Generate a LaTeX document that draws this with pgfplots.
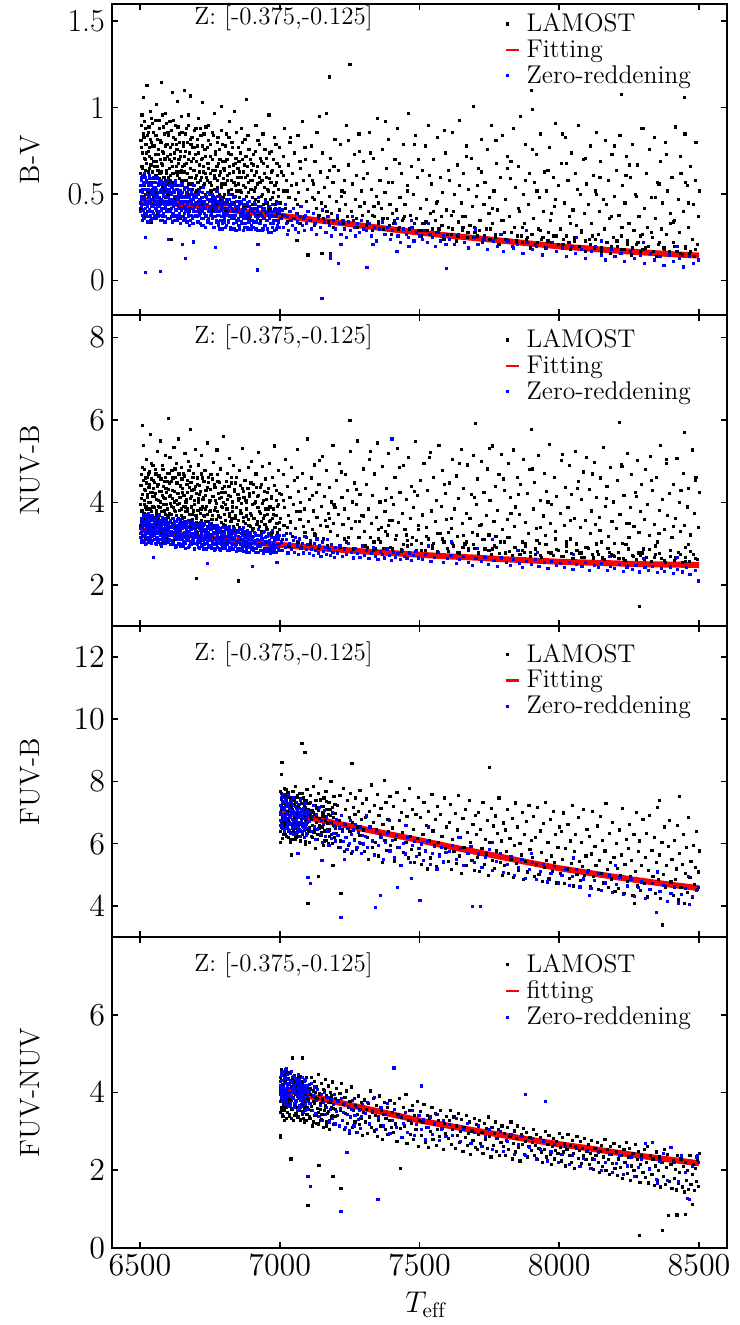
\RequirePackage{fix-cm}
\documentclass[border=0pt]{standalone}
\usepackage{fontspec}
\usepackage{pgfplots}
\pgfplotsset{compat=1.18}
\pgfplotsset{
  panel/.style={width=307.5pt, height=155.5pt, scale only axis,
    xmin=6400, xmax=8600, xtick={6500,7000,7500,8000,8500},
    tick align=inside, tick pos=both, major tick length=3pt,
    every tick/.style={black, line width=0.8pt},
    axis line style={line width=0.9pt},
    ticklabel style={font=\fontsize{16}{18}\selectfont},
    /pgf/number format/1000 sep={},
    ylabel style={font=\fontsize{14}{16}\selectfont, at={(axis description cs:-0.1335,0.5)}, anchor=center},
    legend cell align=left,
    legend style={draw=none, fill=none, font=\fontsize{12.8}{14}\selectfont, row sep=0.6pt, inner sep=0pt, nodes={inner sep=1pt}},
  },
  lam/.style={only marks, mark=square*, mark size=0.55pt, black, mark options={line width=0.1pt},
    legend image code/.code={\path[draw=none,fill=none] (0,-0.05pt) rectangle (0.23cm,0.05pt); \fill[black, overlay] (-2.55pt,-0.55pt) rectangle (-1.45pt,0.55pt);}},
  zer/.style={only marks, mark=square*, mark size=0.55pt, blue, mark options={line width=0.1pt},
    legend image code/.code={\path[draw=none,fill=none] (0,-0.05pt) rectangle (0.23cm,0.05pt); \fill[blue, overlay] (-2.55pt,-0.55pt) rectangle (-1.45pt,0.55pt);}},
  fitimg/.style={legend image code/.code={\path[draw=none,fill=none] (0,-0.05pt) rectangle (0.23cm,0.05pt); \draw[red, line width=1.3pt, overlay] (-3pt,0cm) -- (3.5pt,0cm);}},
  fit/.style={red, line width=3pt, no marks, forget plot},
}
\begin{document}
\begin{tikzpicture}
\useasboundingbox (-56pt,-38.5pt) rectangle (313.5pt,624pt);
% ---------------- Panel 1 : B-V
\begin{axis}[panel, at={(0,466.5pt)}, anchor=south west, ymin=-0.2, ymax=1.6, ytick={0,0.5,1,1.5},
  yticklabels={0,0.5,1,1.5}, xticklabels={,,,,}, ylabel={B-V},
  legend style={at={(rel axis cs:0.649,0.978)}, anchor=north west}]
\addplot[lam] coordinates {
(6501,0.42)(6503,0.58)(6504,0.77)(6506,0.96)(6507,0.49)(6509,0.65)(6510,1.06)(6512,0.37)(6513,0.83)(6515,0.55)(6516,0.61)(6518,0.70)(6519,0.88)(6521,0.45)(6522,0.74)(6524,1.13)(6525,0.52)(6527,0.40)(6528,0.86)(6530,0.63)(6531,0.50)(6533,0.72)(6535,0.98)(6536,0.57)(6538,0.67)(6539,0.34)(6541,0.80)(6543,0.53)(6544,0.91)(6546,0.60)(6548,0.47)(6549,0.69)
(6551,0.78)(6552,0.44)(6554,0.59)(6556,0.84)(6557,0.51)(6559,1.02)(6560,0.66)(6562,0.39)(6564,0.73)(6565,0.56)(6567,0.93)(6569,0.48)(6570,0.62)(6572,0.81)(6574,0.35)(6575,0.68)(6577,1.15)(6579,0.54)(6580,0.75)(6582,0.46)(6584,0.89)(6585,0.60)(6587,0.71)(6589,0.42)(6590,0.97)(6592,0.58)(6594,0.64)(6595,0.79)(6597,0.50)(6599,0.86)
(6601,0.53)(6603,0.70)(6604,0.41)(6606,0.92)(6608,0.61)(6609,0.77)(6611,0.24)(6611,0.47)(6613,0.57)(6615,1.09)(6616,0.66)(6618,0.83)(6620,0.38)(6622,0.74)(6623,0.55)(6625,0.90)(6627,0.49)(6629,0.63)(6630,0.79)(6632,0.44)(6634,1.04)(6636,0.68)(6637,0.52)(6639,0.85)(6641,0.59)(6643,0.72)(6645,0.36)(6646,0.95)(6648,0.64)
(6651,0.48)(6653,0.80)(6655,0.58)(6657,0.67)(6658,1.10)(6660,0.43)(6662,0.75)(6664,0.54)(6666,0.88)(6668,0.62)(6669,0.50)(6671,0.70)(6673,0.96)(6675,0.40)(6677,0.60)(6679,0.82)(6680,1.07)(6682,0.46)(6684,0.69)(6686,0.56)(6688,0.77)(6690,0.37)(6692,0.64)(6694,0.87)(6696,0.51)(6698,0.73)
(6701,0.61)(6703,0.44)(6705,0.78)(6707,0.53)(6709,0.94)(6711,0.67)(6713,0.39)(6715,0.58)(6717,0.84)(6719,0.48)(6721,0.71)(6723,1.03)(6725,0.55)(6727,0.63)(6729,0.42)(6731,0.76)(6733,0.50)(6735,0.89)(6738,0.60)(6740,0.35)(6742,0.68)(6744,0.81)(6747,0.46)(6749,0.57)
(6751,0.72)(6753,0.52)(6756,0.41)(6758,0.86)(6760,0.64)(6762,0.49)(6765,0.97)(6767,0.59)(6769,0.75)(6771,0.43)(6774,0.66)(6776,0.54)(6778,0.83)(6780,0.38)(6783,0.61)(6785,0.70)(6787,0.47)(6790,1.01)(6792,0.56)(6794,0.79)(6797,0.44)(6799,0.65)
(6801,0.50)(6804,0.69)(6806,0.40)(6808,0.85)(6811,0.58)(6813,0.46)(6816,0.74)(6818,0.62)(6820,0.92)(6823,0.37)(6825,0.53)(6828,0.80)(6830,0.44)(6832,0.67)(6835,0.57)(6837,0.98)(6840,0.49)(6842,0.71)(6845,0.41)(6847,0.60)
(6851,0.77)(6854,0.45)(6856,0.63)(6859,0.52)(6861,0.88)(6864,0.39)(6866,0.70)(6869,0.55)(6871,0.47)(6874,0.82)(6876,0.60)(6879,1.05)(6881,0.43)(6884,0.66)(6886,0.51)(6889,0.76)(6891,0.36)(6894,0.58)(6897,0.68)
(6901,0.48)(6904,0.73)(6906,0.42)(6909,0.61)(6912,0.54)(6914,0.90)(6917,0.38)(6920,0.66)(6922,0.46)(6925,0.79)(6928,0.57)(6930,0.35)(6933,0.69)(6936,0.50)(6939,0.85)(6941,0.44)(6944,0.62)(6947,0.40)
(6951,0.71)(6954,0.53)(6957,0.41)(6960,0.96)(6962,0.59)(6965,0.47)(6968,0.75)(6971,0.37)(6974,0.64)(6977,0.51)(6980,0.83)(6983,0.44)(6986,0.57)(6989,0.68)(6992,0.39)(6995,0.49)(6998,0.77)
(7002,0.45)(7005,0.63)(7008,0.38)(7011,0.72)(7014,0.52)(7017,0.88)(7020,0.42)(7023,0.58)(7026,0.34)(7029,0.67)(7032,0.48)(7035,0.80)(7038,0.40)(7041,0.55)(7044,0.62)(7047,0.36)
(7051,0.74)(7054,0.47)(7058,0.56)(7060,0.235)(7061,0.39)(7064,0.84)(7067,0.51)(7071,0.33)(7074,0.65)(7077,0.43)(7081,0.92)(7084,0.58)(7087,0.37)(7091,0.70)(7094,0.46)(7097,0.53)
(7100,0.15)(7101,0.40)(7104,0.61)(7108,0.35)(7111,0.78)(7115,0.48)(7118,0.56)(7122,0.32)(7125,0.69)(7129,0.42)(7132,0.86)(7136,0.51)(7139,0.38)(7143,0.63)(7147,0.45)
(7150,0.16)(7151,0.74)(7155,0.36)(7159,0.54)(7162,0.43)(7166,0.97)(7170,0.60)(7173,0.34)(7177,0.49)(7178,1.18)(7179,0.155)(7181,0.71)(7185,0.39)(7189,0.57)(7192,0.31)(7196,0.82)
(7201,0.46)(7205,0.36)(7209,0.64)(7213,0.41)(7217,0.79)(7221,0.52)(7225,0.33)(7229,0.58)(7233,0.44)(7237,0.90)(7241,0.37)(7245,0.67)
(7250,1.25)(7254,0.40)(7258,0.56)(7262,0.35)(7266,0.73)(7270,0.47)(7274,0.61)(7278,0.31)(7282,0.85)(7286,0.43)(7290,0.52)(7295,0.38)(7299,0.69)
(7303,0.45)(7308,0.32)(7312,0.62)(7317,0.40)(7321,0.86)(7326,0.53)(7330,0.29)(7335,0.71)(7339,0.37)(7344,0.49)(7348,0.94)(7353,0.34)(7357,0.58)(7362,0.42)(7366,0.76)(7371,0.30)(7375,0.51)(7380,0.65)(7384,0.36)(7389,0.82)(7393,0.44)(7398,0.27)
(7402,0.57)(7406,0.33)(7411,0.70)(7415,0.41)(7420,0.88)(7424,0.30)(7429,0.48)(7433,0.62)(7438,0.35)(7442,0.79)(7447,0.44)(7451,0.27)(7456,0.55)(7460,0.97)(7465,0.38)(7469,0.66)(7474,0.31)(7478,0.50)(7483,0.84)(7487,0.36)(7492,0.60)(7496,0.29)
(7502,0.42)(7506,0.26)(7510,0.64)(7515,0.33)(7519,0.78)(7523,0.47)(7528,0.29)(7532,0.90)(7537,0.39)(7541,0.56)(7546,0.25)(7550,0.70)(7555,0.35)(7559,0.45)(7564,0.83)(7568,0.30)(7573,0.60)(7577,0.37)(7582,0.51)(7586,0.24)(7591,0.74)(7595,0.41)
(7603,0.31)(7607,0.58)(7612,0.27)(7616,0.86)(7621,0.40)(7625,0.50)(7630,0.23)(7634,0.67)(7639,0.34)(7643,0.93)(7648,0.45)(7652,0.29)(7657,0.62)(7661,0.37)(7666,0.78)(7670,0.25)(7675,0.53)(7679,0.32)(7684,0.71)(7688,0.43)(7693,1.01)(7697,0.28)
(7702,0.49)(7706,0.26)(7711,0.65)(7715,0.35)(7720,0.82)(7724,0.22)(7729,0.44)(7733,0.57)(7738,0.30)(7742,0.76)(7747,0.39)(7751,0.24)(7756,0.90)(7760,0.33)(7765,0.52)(7769,0.27)(7774,0.68)(7778,0.41)(7783,0.21)(7787,0.60)(7792,0.35)(7796,0.84)
(7803,0.28)(7807,0.47)(7812,0.72)(7816,0.23)(7821,0.37)(7825,0.59)(7830,0.20)(7834,0.88)(7839,0.31)(7843,0.54)(7848,0.26)(7852,0.66)(7857,0.40)(7861,0.95)(7866,0.22)(7870,0.50)(7875,0.33)(7879,0.79)(7884,0.25)(7888,0.44)(7893,0.62)(7897,0.19)
(7900,1.10)(7903,0.99)(7905,0.36)(7909,0.57)(7914,0.21)(7918,0.73)(7923,0.30)(7927,0.48)(7932,0.85)(7936,0.24)(7941,0.40)(7945,0.63)(7950,0.19)(7954,0.52)(7959,0.28)(7963,0.77)(7968,0.35)(7972,0.22)(7977,0.60)(7981,0.43)(7986,0.91)(7990,0.26)(7995,0.55)
(8003,0.30)(8007,0.68)(8012,0.21)(8016,0.45)(8021,0.83)(8025,0.26)(8030,0.58)(8034,0.37)(8039,0.18)(8043,0.74)(8048,0.41)(8052,0.23)(8057,0.62)(8061,0.32)(8066,0.90)(8070,0.20)(8075,0.50)(8079,0.28)(8084,0.70)(8088,0.39)(8093,0.17)(8097,0.56)
(8102,0.44)(8106,0.24)(8111,0.78)(8115,0.33)(8120,0.61)(8124,0.19)(8129,0.52)(8133,0.86)(8138,0.27)(8142,0.40)(8147,0.69)(8151,0.17)(8156,0.47)(8160,0.30)(8165,0.81)(8169,0.22)(8174,0.58)(8178,0.36)(8183,0.16)(8187,0.73)(8192,0.25)(8196,0.49)
(8203,0.64)(8207,0.20)(8212,0.38)(8216,0.84)(8220,1.08)(8221,0.26)(8225,0.55)(8230,0.18)(8234,0.45)(8239,0.72)(8243,0.23)(8248,0.33)(8252,0.60)(8257,0.15)(8261,0.79)(8266,0.29)(8270,0.50)(8275,0.21)(8279,0.67)(8284,0.37)(8288,0.17)(8293,0.88)(8297,0.27)
(8302,0.42)(8306,0.19)(8311,0.62)(8315,0.31)(8320,0.76)(8324,0.16)(8329,0.48)(8333,0.25)(8338,0.83)(8342,0.36)(8347,0.14)(8351,0.57)(8356,0.22)(8360,0.69)(8365,0.30)(8369,0.45)(8374,0.18)(8378,0.80)(8383,0.27)(8387,0.52)(8392,0.16)(8396,0.39)
(8402,0.60)(8406,0.22)(8411,0.35)(8415,0.89)(8420,0.17)(8424,0.47)(8429,0.28)(8433,0.72)(8438,0.15)(8442,0.40)(8447,1.06)(8448,0.85)(8451,0.20)(8456,0.55)(8460,0.31)(8465,0.16)(8469,0.66)(8474,0.24)(8478,0.44)(8483,0.14)(8487,0.58)(8492,0.21)(8496,0.37)(8499,0.52)
(7312,0.34)(7331,0.38)(7352,0.33)(7368,0.36)(7391,0.32)(7409,0.35)(7427,0.31)(7446,0.37)(7463,0.30)(7481,0.33)(7505,0.29)(7522,0.34)(7544,0.30)(7561,0.28)(7579,0.32)(7598,0.27)(7617,0.30)(7636,0.26)(7654,0.31)(7672,0.28)(7691,0.25)(7713,0.29)(7731,0.26)(7752,0.30)(7770,0.25)(7789,0.27)(7808,0.24)(7827,0.28)(7845,0.23)(7864,0.26)(7882,0.24)(7901,0.27)(7922,0.22)(7940,0.25)(7958,0.23)(7979,0.26)(7996,0.21)(8015,0.24)(8033,0.22)(8054,0.25)(8072,0.20)(8091,0.23)(8110,0.21)(8128,0.24)(8149,0.19)(8167,0.22)(8186,0.20)(8205,0.23)(8223,0.18)(8242,0.21)(8261,0.19)(8280,0.22)(8298,0.18)(8317,0.20)(8336,0.17)(8354,0.21)(8373,0.19)(8392,0.17)(8410,0.20)(8431,0.16)(8449,0.19)(8468,0.17)(8487,0.18)
};
\addlegendentry{LAMOST}
\addplot[lam, forget plot] coordinates {
(6500,0.62)(6502,0.81)(6503,0.47)(6505,0.90)(6506,0.66)(6508,0.74)(6509,0.53)(6511,0.85)(6513,0.60)(6514,0.71)(6516,0.92)(6517,0.50)(6519,0.64)(6520,0.79)(6522,0.58)(6523,0.68)(6525,0.84)(6526,0.46)(6528,0.75)(6529,0.55)(6531,0.89)(6532,0.65)(6534,0.77)(6535,0.52)(6537,0.82)(6538,0.59)(6540,0.71)(6541,0.94)(6543,0.63)(6545,0.78)(6546,0.49)(6548,0.86)
(6550,0.66)(6551,0.57)(6553,0.73)(6555,0.93)(6556,0.61)(6558,0.69)(6559,0.50)(6561,0.82)(6563,0.64)(6564,0.55)(6566,0.76)(6568,0.88)(6569,0.59)(6571,0.70)(6573,0.45)(6574,0.80)(6576,0.63)(6578,0.96)(6579,0.67)(6581,0.53)(6583,0.74)(6584,0.60)(6586,0.85)(6588,0.70)(6589,0.48)(6591,0.78)(6593,0.62)(6594,0.91)(6596,0.56)(6598,0.72)
(6600,0.60)(6602,0.84)(6604,0.65)(6605,0.50)(6607,0.73)(6609,0.58)(6610,0.87)(6612,0.69)(6614,0.54)(6616,0.79)(6617,0.62)(6619,0.93)(6621,0.57)(6622,0.71)(6624,0.47)(6626,0.82)(6628,0.66)(6629,0.55)(6631,0.76)(6633,0.61)(6635,0.89)(6636,0.52)(6638,0.70)(6640,0.80)(6642,0.63)(6643,0.48)(6645,0.75)(6647,0.58)(6649,0.86)
(6650,0.66)(6652,0.55)(6654,0.78)(6656,0.63)(6657,0.46)(6659,0.72)(6661,0.85)(6663,0.58)(6665,0.68)(6667,0.51)(6669,0.80)(6670,0.62)(6672,0.90)(6674,0.56)(6676,0.74)(6678,0.65)(6680,0.47)(6681,0.79)(6683,0.60)(6685,0.83)(6687,0.53)(6689,0.71)(6691,0.64)(6693,0.49)(6695,0.77)(6697,0.59)(6699,0.88)
(6700,0.52)(6702,0.69)(6704,0.82)(6706,0.57)(6708,0.74)(6710,0.46)(6712,0.63)(6714,0.88)(6716,0.54)(6718,0.70)(6720,0.60)(6722,0.78)(6724,0.45)(6726,0.66)(6728,0.85)(6730,0.56)(6732,0.72)(6734,0.62)(6736,0.48)(6739,0.77)(6741,0.58)(6743,0.90)(6745,0.65)(6748,0.51)
(6750,0.62)(6752,0.79)(6755,0.55)(6757,0.70)(6759,0.47)(6761,0.84)(6764,0.61)(6766,0.53)(6768,0.73)(6770,0.64)(6773,0.45)(6775,0.80)(6777,0.58)(6779,0.68)(6782,0.50)(6784,0.76)(6786,0.63)(6789,0.87)(6791,0.54)(6793,0.69)(6796,0.59)(6798,0.48)
(6800,0.64)(6803,0.56)(6805,0.78)(6807,0.47)(6810,0.70)(6812,0.61)(6815,0.52)(6817,0.83)(6819,0.66)(6822,0.44)(6824,0.73)(6827,0.58)(6829,0.50)(6831,0.77)(6834,0.63)(6836,0.45)(6839,0.68)(6841,0.55)(6844,0.86)(6846,0.52)(6849,0.65)
(6850,0.56)(6853,0.69)(6855,0.48)(6858,0.74)(6860,0.60)(6863,0.51)(6865,0.80)(6868,0.63)(6870,0.43)(6873,0.67)(6875,0.54)(6878,0.72)(6880,0.49)(6883,0.61)(6885,0.84)(6888,0.57)(6890,0.46)(6893,0.70)(6896,0.53)(6899,0.64)
(6900,0.58)(6903,0.44)(6905,0.67)(6908,0.52)(6911,0.75)(6913,0.47)(6916,0.63)(6919,0.56)(6921,0.81)(6924,0.43)(6927,0.60)(6929,0.71)(6932,0.49)(6935,0.58)(6938,0.42)(6940,0.68)(6943,0.54)(6946,0.76)(6949,0.47)
(6950,0.60)(6953,0.45)(6956,0.66)(6959,0.52)(6961,0.74)(6964,0.42)(6967,0.57)(6970,0.63)(6973,0.48)(6976,0.70)(6979,0.41)(6982,0.55)(6985,0.79)(6988,0.46)(6991,0.61)(6994,0.53)(6997,0.42)(6999,0.66)
(7013,0.61)(7037,0.83)(7062,0.44)(7089,0.77)(7116,0.58)(7141,0.95)(7168,0.40)(7193,0.66)(7219,0.49)(7244,0.81)(7273,0.36)(7297,0.59)(7324,0.74)(7351,0.45)(7377,0.92)(7403,0.39)(7428,0.68)(7457,0.52)(7481,0.79)(7508,0.33)(7534,0.61)(7563,0.46)(7587,0.87)(7614,0.38)(7641,0.55)(7668,0.72)(7694,0.31)(7719,0.63)(7748,0.48)(7772,0.81)(7799,0.35)(7826,0.69)(7853,0.42)(7877,0.58)(7904,0.76)(7931,0.29)(7958,0.64)(7984,0.47)(8011,0.85)(8038,0.33)(8063,0.53)(8091,0.71)(8117,0.26)(8144,0.60)(8168,0.44)(8197,0.78)(8223,0.31)(8249,0.67)(8276,0.49)(8301,0.88)(8328,0.28)(8355,0.56)(8381,0.73)(8408,0.34)(8434,0.62)(8461,0.45)(8488,0.80)
(7026,0.52)(7071,0.69)(7123,0.47)(7176,0.64)(7229,0.51)(7283,0.75)(7336,0.43)(7389,0.57)(7442,0.36)(7495,0.70)(7548,0.40)(7601,0.64)(7654,0.37)(7707,0.55)(7760,0.42)(7813,0.65)(7866,0.31)(7919,0.52)(7972,0.39)(8025,0.68)(8078,0.29)(8131,0.50)(8184,0.37)(8237,0.61)(8290,0.26)(8343,0.48)(8396,0.33)(8449,0.57)
};
\addlegendimage{fitimg}
\addlegendentry{Fitting}
\addplot[zer] coordinates {
(6501,0.40)(6502,0.55)(6504,0.47)(6505,0.60)(6507,0.38)(6508,0.51)(6510,0.44)(6511,0.57)(6513,0.36)(6514,0.49)(6516,0.62)(6517,0.42)(6519,0.53)(6520,0.46)(6522,0.39)(6523,0.58)(6525,0.50)(6526,0.43)(6528,0.55)(6529,0.37)(6531,0.48)(6532,0.61)(6534,0.41)(6535,0.52)(6537,0.45)(6538,0.35)(6540,0.56)(6541,0.47)(6543,0.40)(6544,0.59)(6546,0.50)(6547,0.43)(6549,0.54)
(6550,0.38)(6552,0.49)(6553,0.57)(6555,0.42)(6556,0.46)(6558,0.36)(6559,0.53)(6561,0.44)(6562,0.60)(6564,0.48)(6565,0.39)(6567,0.51)(6568,0.43)(6570,0.56)(6571,0.35)(6573,0.47)(6574,0.52)(6576,0.41)(6577,0.58)(6579,0.45)(6580,0.37)(6582,0.50)(6583,0.42)(6585,0.55)(6586,0.46)(6588,0.34)(6589,0.49)(6591,0.43)(6592,0.57)(6594,0.40)(6595,0.52)(6597,0.45)(6598,0.36)
(6518,0.046)(6571,0.052)(6661,0.127)(6918,0.063)(7150,-0.104)(7208,0.10)(7311,0.075)(7596,0.07)
(6518,0.25)(6600,0.24)(6650,0.21)(6690,0.225)(6768,0.195)(6921,0.21)(7025,0.27)(7179,0.15)(7181,0.13)(7218,0.21)(7332,0.21)(7418,0.17)(7461,0.20)
(6601,0.48)(6603,0.40)(6604,0.53)(6606,0.36)(6607,0.45)(6609,0.56)(6611,0.42)(6612,0.50)(6614,0.34)(6616,0.47)(6617,0.39)(6619,0.55)(6621,0.44)(6622,0.51)(6624,0.37)(6626,0.46)(6627,0.58)(6629,0.41)(6631,0.49)(6632,0.35)(6634,0.53)(6636,0.43)(6637,0.47)(6639,0.38)(6641,0.52)(6642,0.44)(6644,0.33)(6646,0.50)(6647,0.41)(6649,0.56)
(6651,0.45)(6653,0.37)(6654,0.49)(6656,0.42)(6658,0.54)(6660,0.36)(6661,0.46)(6663,0.40)(6665,0.51)(6667,0.34)(6669,0.44)(6670,0.48)(6672,0.39)(6674,0.53)(6676,0.42)(6678,0.35)(6679,0.47)(6681,0.50)(6683,0.38)(6685,0.44)(6687,0.33)(6689,0.49)(6690,0.41)(6692,0.55)(6694,0.37)(6696,0.45)(6698,0.40)
(6701,0.45)(6703,0.37)(6705,0.50)(6707,0.41)(6709,0.34)(6711,0.47)(6713,0.52)(6715,0.39)(6717,0.43)(6719,0.32)(6721,0.48)(6723,0.40)(6725,0.54)(6727,0.36)(6729,0.45)(6731,0.42)(6733,0.31)(6735,0.49)(6737,0.38)(6740,0.44)(6742,0.51)(6744,0.35)(6746,0.41)(6748,0.47)
(6750,0.33)(6752,0.43)(6754,0.39)(6756,0.50)(6758,0.36)(6760,0.45)(6762,0.31)(6764,0.41)(6766,0.48)(6768,0.37)(6770,0.43)(6772,0.34)(6774,0.52)(6776,0.40)(6778,0.46)(6780,0.32)(6782,0.38)(6784,0.44)(6786,0.35)(6788,0.49)(6790,0.41)(6792,0.30)(6794,0.45)(6796,0.37)(6798,0.42)
(6801,0.36)(6803,0.44)(6806,0.31)(6808,0.47)(6810,0.39)(6812,0.42)(6815,0.34)(6817,0.50)(6819,0.37)(6821,0.43)(6824,0.30)(6826,0.45)(6828,0.38)(6830,0.41)(6833,0.33)(6835,0.48)(6837,0.36)(6840,0.43)(6842,0.29)(6844,0.40)(6846,0.46)(6849,0.35)
(6851,0.41)(6853,0.32)(6856,0.44)(6858,0.37)(6860,0.39)(6862,0.45)(6865,0.33)(6867,0.40)(6869,0.36)(6871,0.47)(6874,0.31)(6876,0.42)(6878,0.38)(6881,0.44)(6883,0.30)(6885,0.39)(6888,0.35)(6890,0.46)(6892,0.37)(6895,0.41)(6897,0.32)
(6902,0.40)(6905,0.34)(6908,0.45)(6911,0.37)(6914,0.30)(6917,0.42)(6920,0.36)(6923,0.48)(6926,0.33)(6929,0.39)(6932,0.43)(6935,0.29)(6938,0.37)(6941,0.41)(6944,0.32)(6947,0.46)(6950,0.35)(6953,0.39)(6956,0.30)(6959,0.43)(6962,0.36)(6965,0.40)(6968,0.28)(6971,0.38)(6974,0.44)(6977,0.33)(6980,0.37)(6983,0.41)(6986,0.30)(6989,0.35)(6992,0.45)(6995,0.34)(6998,0.39)
(7003,0.36)(7007,0.41)(7011,0.31)(7015,0.38)(7019,0.44)(7023,0.33)(7027,0.37)(7031,0.29)(7035,0.40)(7039,0.35)(7043,0.32)(7047,0.42)(7051,0.36)(7055,0.30)(7059,0.39)(7063,0.34)(7067,0.28)(7071,0.37)(7075,0.43)(7079,0.32)(7083,0.36)(7087,0.29)(7091,0.38)(7095,0.33)(7099,0.40)
(7105,0.35)(7112,0.30)(7118,0.39)(7125,0.33)(7131,0.27)(7138,0.36)(7145,0.31)(7151,0.41)(7158,0.34)(7164,0.28)(7171,0.37)(7178,0.32)(7184,0.26)(7191,0.35)(7198,0.30)(7205,0.38)(7211,0.33)(7218,0.27)(7225,0.35)(7231,0.30)(7238,0.25)(7245,0.34)(7251,0.29)(7258,0.37)(7265,0.31)(7271,0.26)(7278,0.33)(7285,0.28)(7291,0.35)(7298,0.30)
(7308,0.29)(7318,0.33)(7327,0.26)(7337,0.31)(7346,0.23)(7356,0.30)(7365,0.34)(7375,0.27)(7384,0.31)(7394,0.24)(7403,0.29)(7413,0.33)(7422,0.26)(7432,0.22)(7441,0.30)(7451,0.27)(7460,0.25)(7470,0.31)(7479,0.23)(7489,0.28)(7498,0.26)(7508,0.24)(7517,0.29)(7527,0.22)(7536,0.27)(7546,0.25)(7555,0.20)(7565,0.28)(7574,0.23)(7584,0.26)(7593,0.21)
(7605,0.24)(7624,0.21)(7638,0.27)(7659,0.22)(7673,0.19)(7694,0.25)(7708,0.21)(7729,0.24)(7743,0.18)(7764,0.23)(7778,0.20)(7799,0.17)(7813,0.23)(7834,0.19)(7848,0.21)(7869,0.16)(7883,0.22)(7904,0.18)(7918,0.20)(7939,0.15)(7953,0.19)(7974,0.22)(7988,0.17)(8009,0.19)(8023,0.14)(8044,0.20)(8058,0.16)(8079,0.18)(8093,0.13)(8114,0.17)(8128,0.20)(8149,0.15)(8163,0.12)(8184,0.18)(8198,0.14)(8219,0.16)(8233,0.11)(8254,0.17)(8268,0.13)(8289,0.15)(8303,0.10)(8324,0.16)(8338,0.12)(8359,0.14)(8373,0.09)(8394,0.15)(8408,0.11)(8429,0.13)(8443,0.08)(8464,0.14)(8478,0.10)(8497,0.12)
(7700,0.30)(7790,0.27)(7880,0.29)(8060,0.25)(8150,0.23)(8300,0.22)(8420,0.20)(7420,0.36)(7470,0.35)(7530,0.33)
};
\addlegendentry{Zero-reddening}
\addplot[zer, forget plot] coordinates {
(6500,0.45)(6501,0.52)(6503,0.43)(6504,0.58)(6506,0.49)(6507,0.35)(6509,0.61)(6510,0.41)(6512,0.53)(6513,0.47)(6515,0.39)(6516,0.56)(6518,0.44)(6519,0.60)(6521,0.37)(6522,0.50)(6524,0.45)(6525,0.57)(6527,0.34)(6528,0.48)(6530,0.53)(6531,0.40)(6533,0.59)(6534,0.46)(6536,0.38)(6537,0.55)(6539,0.43)(6540,0.50)(6542,0.36)(6543,0.57)(6545,0.44)(6546,0.52)(6548,0.39)(6549,0.60)
(6551,0.45)(6552,0.36)(6554,0.54)(6555,0.48)(6557,0.41)(6558,0.59)(6560,0.43)(6561,0.50)(6563,0.37)(6564,0.55)(6566,0.46)(6567,0.40)(6569,0.58)(6570,0.44)(6572,0.51)(6573,0.38)(6575,0.53)(6576,0.47)(6578,0.35)(6579,0.56)(6581,0.42)(6582,0.49)(6584,0.39)(6585,0.57)(6587,0.44)(6588,0.51)(6590,0.37)(6591,0.54)(6593,0.46)(6594,0.41)(6596,0.58)(6597,0.48)(6599,0.40)
(6600,0.52)(6602,0.44)(6603,0.36)(6605,0.55)(6606,0.47)(6608,0.40)(6609,0.51)(6611,0.37)(6613,0.54)(6614,0.45)(6616,0.39)(6618,0.52)(6619,0.43)(6621,0.35)(6623,0.49)(6624,0.56)(6626,0.41)(6628,0.47)(6629,0.38)(6631,0.53)(6633,0.44)(6634,0.36)(6636,0.50)(6638,0.42)(6639,0.55)(6641,0.39)(6643,0.46)(6644,0.52)(6646,0.37)(6648,0.48)
(6650,0.42)(6652,0.51)(6653,0.35)(6655,0.46)(6657,0.53)(6659,0.39)(6660,0.48)(6662,0.43)(6664,0.34)(6666,0.50)(6668,0.41)(6669,0.54)(6671,0.37)(6673,0.46)(6675,0.32)(6677,0.49)(6678,0.42)(6680,0.38)(6682,0.52)(6684,0.45)(6686,0.36)(6688,0.47)(6689,0.40)(6691,0.33)(6693,0.50)(6695,0.43)(6697,0.38)(6699,0.48)
(6700,0.40)(6702,0.48)(6704,0.34)(6706,0.44)(6708,0.50)(6710,0.38)(6712,0.45)(6714,0.33)(6716,0.47)(6718,0.41)(6720,0.36)(6722,0.51)(6724,0.43)(6726,0.32)(6728,0.46)(6730,0.39)(6732,0.49)(6734,0.37)(6736,0.44)(6739,0.34)(6741,0.47)(6743,0.40)(6745,0.36)(6747,0.50)(6749,0.42)
(6751,0.38)(6753,0.46)(6755,0.33)(6757,0.43)(6759,0.48)(6761,0.37)(6763,0.44)(6765,0.31)(6767,0.40)(6769,0.47)(6771,0.35)(6773,0.42)(6775,0.38)(6777,0.49)(6779,0.34)(6781,0.44)(6783,0.40)(6785,0.30)(6787,0.45)(6789,0.37)(6791,0.43)(6793,0.33)(6795,0.47)(6797,0.39)(6799,0.35)
(6800,0.42)(6802,0.34)(6805,0.45)(6807,0.38)(6809,0.32)(6811,0.44)(6814,0.40)(6816,0.35)(6818,0.47)(6820,0.38)(6823,0.31)(6825,0.42)(6827,0.36)(6829,0.45)(6832,0.33)(6834,0.40)(6836,0.44)(6838,0.30)(6841,0.38)(6843,0.43)(6845,0.34)(6848,0.41)
(6850,0.36)(6852,0.43)(6855,0.30)(6857,0.40)(6859,0.46)(6861,0.34)(6864,0.41)(6866,0.37)(6868,0.29)(6870,0.44)(6873,0.38)(6875,0.33)(6877,0.42)(6880,0.36)(6882,0.45)(6884,0.31)(6887,0.39)(6889,0.34)(6891,0.43)(6894,0.37)(6896,0.30)(6898,0.41)
(6900,0.35)(6903,0.42)(6906,0.31)(6909,0.39)(6912,0.44)(6915,0.34)(6918,0.40)(6921,0.29)(6924,0.37)(6927,0.43)(6930,0.33)(6933,0.38)(6936,0.41)(6939,0.30)(6942,0.36)(6945,0.42)(6948,0.32)(6951,0.40)(6954,0.35)(6957,0.28)(6960,0.38)(6963,0.43)(6966,0.33)(6969,0.37)(6972,0.31)(6975,0.40)(6978,0.35)(6981,0.29)(6984,0.42)(6987,0.37)(6990,0.32)(6993,0.39)(6996,0.41)(6999,0.31)
};
\addplot[fit] coordinates {(6500,0.467)(6600,0.449)(6700,0.430)(6800,0.412)(6900,0.394)(7000,0.375)(7100,0.355)(7200,0.336)(7300,0.316)(7400,0.296)(7500,0.277)(7600,0.260)(7700,0.245)(7800,0.229)(7900,0.213)(8000,0.197)(8100,0.185)(8200,0.173)(8300,0.162)(8400,0.152)(8500,0.144)};
\node[font=\fontsize{12.5}{13}\selectfont] at (rel axis cs:0.279,0.955) {Z: [-0.375,-0.125]};
\end{axis}
% ---------------- Panel 2 : NUV-B
\begin{axis}[panel, at={(0,311pt)}, anchor=south west, ymin=1, ymax=8.55, ytick={2,4,6,8},
  xticklabels={,,,,}, ylabel={NUV-B},
  legend style={at={(rel axis cs:0.649,0.962)}, anchor=north west}]
\addplot[lam] coordinates {
(6502,3.45)(6504,4.10)(6505,3.78)(6507,4.85)(6509,3.20)(6510,5.40)(6512,3.62)(6514,4.32)(6515,3.95)(6517,3.10)(6519,4.60)(6520,3.52)(6522,5.05)(6524,3.85)(6525,4.20)(6527,3.35)(6529,4.70)(6530,3.70)(6532,4.45)(6534,3.05)(6535,5.65)(6537,4.00)(6539,3.58)(6540,4.95)(6542,3.28)(6544,4.25)(6545,3.90)(6547,4.55)(6549,3.42)(6507,5.87)
(6551,4.15)(6553,3.48)(6555,4.80)(6557,3.72)(6558,3.15)(6560,4.40)(6562,5.25)(6564,3.60)(6565,4.05)(6567,3.30)(6569,4.65)(6570,3.88)(6572,5.50)(6574,3.40)(6575,4.28)(6577,3.02)(6579,4.90)(6580,3.65)(6582,4.12)(6584,3.25)(6585,4.52)(6587,3.80)(6589,5.15)(6590,3.55)(6592,4.35)(6594,3.95)(6595,3.12)(6597,4.72)(6599,3.68)
(6600,6.04)(6601,3.38)(6603,4.48)(6604,3.75)(6606,5.10)(6608,3.22)(6609,4.18)(6611,3.92)(6613,4.78)(6615,3.50)(6616,4.30)(6618,3.08)(6620,5.35)(6622,3.82)(6623,4.02)(6625,3.45)(6627,4.62)(6629,3.70)(6630,4.95)(6632,3.28)(6634,4.22)(6636,3.62)(6637,5.55)(6639,3.98)(6641,3.18)(6643,4.42)(6645,3.55)(6646,4.85)(6648,3.85)
(6651,4.25)(6653,3.40)(6655,4.70)(6657,3.65)(6658,3.05)(6660,5.20)(6662,3.90)(6664,4.08)(6666,3.32)(6668,4.55)(6669,3.78)(6671,5.00)(6673,3.20)(6675,4.38)(6677,3.58)(6679,4.88)(6680,5.77)(6682,3.48)(6684,4.15)(6686,3.72)(6688,4.62)(6690,3.12)(6692,4.32)(6694,3.95)(6696,5.30)(6698,3.38)(6700,2.17)
(6701,3.62)(6703,4.45)(6705,3.28)(6707,4.02)(6709,4.92)(6711,3.50)(6713,4.20)(6715,3.08)(6717,3.85)(6719,5.15)(6721,3.42)(6723,4.60)(6725,3.70)(6727,4.12)(6729,3.00)(6731,4.78)(6733,3.55)(6735,4.30)(6738,3.92)(6740,5.45)(6742,3.25)(6744,4.50)(6747,3.78)(6749,4.05)
(6751,3.35)(6753,4.68)(6756,3.60)(6758,4.15)(6760,3.02)(6762,4.98)(6765,3.82)(6767,4.38)(6769,3.45)(6771,3.98)(6774,5.28)(6776,3.22)(6778,4.52)(6780,3.68)(6783,4.10)(6785,3.12)(6787,4.82)(6790,3.52)(6792,4.25)(6794,3.88)(6797,5.60)(6799,3.30)
(6801,4.40)(6804,3.58)(6806,3.95)(6808,3.05)(6811,4.72)(6813,3.40)(6816,4.18)(6818,3.75)(6820,5.08)(6823,3.18)(6825,4.48)(6828,3.62)(6830,3.90)(6832,4.90)(6835,3.30)(6837,4.28)(6840,3.70)(6842,2.98)(6845,4.62)(6847,3.48)(6850,2.10)
(6851,4.05)(6854,3.35)(6856,4.78)(6859,3.82)(6861,3.10)(6864,4.35)(6866,5.32)(6869,3.55)(6871,4.12)(6874,3.25)(6876,4.55)(6879,3.68)(6881,4.00)(6884,2.95)(6886,4.85)(6889,3.45)(6891,4.22)(6894,3.75)(6897,5.00)
(6901,3.32)(6904,4.45)(6906,3.62)(6909,3.98)(6912,3.08)(6914,4.70)(6917,3.48)(6920,4.15)(6922,5.22)(6925,3.78)(6928,3.20)(6930,4.38)(6933,3.55)(6936,4.88)(6939,3.00)(6941,4.05)(6944,3.70)(6947,4.58)
(6951,3.40)(6954,4.25)(6957,3.85)(6960,3.05)(6962,4.95)(6965,3.58)(6968,4.10)(6971,3.28)(6974,4.62)(6977,3.72)(6980,5.38)(6983,3.15)(6986,4.30)(6989,3.50)(6992,3.92)(6995,4.78)(6998,3.35)
(7002,3.62)(7005,4.20)(7008,3.10)(7011,4.68)(7014,3.45)(7017,3.88)(7020,5.05)(7023,3.25)(7026,4.40)(7029,3.70)(7032,2.95)(7035,4.12)(7038,3.52)(7041,4.85)(7044,3.18)(7047,3.95)(7051,4.55)(7054,3.38)(7058,3.78)(7061,5.30)(7064,3.05)(7067,4.28)(7071,3.60)(7074,4.00)(7077,2.92)(7081,4.72)(7084,3.42)(7087,3.85)(7091,4.35)(7094,3.15)(7097,5.55)
(7101,3.55)(7104,4.08)(7108,3.00)(7111,4.60)(7115,3.35)(7118,3.80)(7122,4.92)(7125,3.22)(7129,4.25)(7132,3.65)(7136,2.90)(7139,4.45)(7143,3.45)(7147,3.92)(7151,5.12)(7155,3.12)(7159,4.15)(7162,3.58)(7166,4.78)(7170,2.95)(7173,3.75)(7177,4.38)(7181,3.30)(7185,4.02)(7189,5.40)(7192,3.50)(7196,3.88)
(7201,4.55)(7205,3.20)(7209,3.72)(7213,4.95)(7217,2.92)(7221,4.12)(7225,3.48)(7229,3.85)(7233,4.68)(7237,3.05)(7241,4.30)(7245,3.62)(7250,6.00)(7251,5.25)(7254,3.38)(7258,4.02)(7262,2.88)(7266,4.48)(7270,3.55)(7274,3.95)(7278,5.50)(7282,3.15)(7286,4.20)(7290,3.70)(7295,2.95)(7299,4.82)
(7303,3.30)(7308,4.45)(7312,2.92)(7317,3.85)(7321,5.05)(7326,3.50)(7330,4.18)(7335,2.85)(7339,4.70)(7344,3.65)(7348,5.45)(7353,3.12)(7357,4.02)(7362,3.40)(7366,4.88)(7371,2.90)(7375,3.78)(7380,4.35)(7384,3.22)(7389,5.20)(7393,3.58)(7398,4.12)
(7402,2.88)(7406,3.95)(7411,4.62)(7415,3.20)(7420,5.32)(7424,3.52)(7429,4.25)(7433,2.82)(7438,3.75)(7442,4.90)(7447,3.35)(7451,4.08)(7456,2.95)(7460,5.10)(7465,3.62)(7469,4.40)(7474,3.15)(7478,3.88)(7483,5.48)(7487,2.85)(7492,4.18)(7496,3.45)
(7502,4.55)(7506,3.02)(7510,3.70)(7515,4.95)(7519,2.85)(7523,3.40)(7528,4.30)(7532,3.12)(7537,5.22)(7541,3.80)(7546,2.90)(7550,4.62)(7555,3.55)(7559,4.05)(7564,2.80)(7568,5.40)(7573,3.25)(7577,3.92)(7582,4.78)(7586,3.05)(7591,4.22)(7595,3.60)
(7603,2.82)(7607,4.48)(7612,3.38)(7616,5.05)(7621,2.95)(7625,3.85)(7630,4.65)(7634,3.18)(7639,4.10)(7643,2.78)(7648,5.30)(7652,3.50)(7657,4.35)(7661,3.00)(7666,3.75)(7670,4.92)(7675,2.85)(7679,3.62)(7684,4.20)(7688,3.28)(7693,5.15)(7697,2.90)(7700,5.93)
(7702,3.95)(7706,4.58)(7711,2.80)(7715,3.45)(7720,5.00)(7724,3.10)(7729,4.25)(7733,2.88)(7738,3.70)(7742,4.82)(7747,3.22)(7751,4.05)(7756,2.75)(7760,5.38)(7765,3.55)(7769,4.40)(7774,2.92)(7778,3.82)(7783,4.68)(7787,3.05)(7792,5.18)(7796,3.35)
(7803,4.30)(7807,2.78)(7812,3.60)(7816,4.95)(7821,3.15)(7825,4.12)(7830,2.72)(7834,5.28)(7839,3.42)(7843,3.90)(7848,4.62)(7852,2.85)(7857,3.72)(7861,4.45)(7866,3.05)(7870,5.05)(7875,2.80)(7879,3.52)(7884,4.22)(7888,3.25)(7893,4.80)(7897,2.70)(7900,5.77)
(7905,3.85)(7909,4.50)(7914,2.75)(7918,3.38)(7923,5.15)(7927,3.02)(7932,4.05)(7936,2.68)(7941,3.68)(7945,4.72)(7950,3.20)(7954,4.28)(7959,2.80)(7963,5.42)(7968,3.50)(7972,3.95)(7977,2.72)(7981,4.62)(7986,3.30)(7990,4.15)(7995,2.85)
(8003,3.75)(8007,5.02)(8012,2.70)(8016,3.45)(8021,4.38)(8025,2.82)(8030,3.88)(8034,4.90)(8039,3.12)(8043,4.20)(8048,2.65)(8052,3.62)(8057,5.25)(8061,3.00)(8066,4.52)(8070,2.78)(8075,3.40)(8079,4.08)(8084,4.75)(8088,2.68)(8093,3.58)(8097,5.10)
(8102,2.90)(8106,4.32)(8111,3.25)(8115,3.80)(8120,2.66)(8124,4.98)(8129,3.48)(8133,4.12)(8138,2.75)(8142,3.65)(8147,4.60)(8151,3.05)(8156,5.35)(8160,2.62)(8165,3.92)(8169,4.40)(8174,3.18)(8178,2.80)(8183,4.85)(8187,3.55)(8192,4.02)(8196,2.70)
(8203,3.38)(8207,4.55)(8212,2.65)(8214,5.95)(8216,3.72)(8221,4.92)(8225,3.02)(8230,4.18)(8234,2.60)(8239,3.50)(8243,5.20)(8248,3.15)(8252,3.88)(8257,4.68)(8261,2.72)(8266,3.42)(8270,4.25)(8275,2.62)(8279,5.02)(8284,3.28)(8286,1.49)(8288,3.78)(8293,4.45)(8297,2.78)
(8302,3.60)(8306,4.80)(8311,2.68)(8315,3.95)(8320,3.20)(8324,5.12)(8329,2.58)(8333,4.30)(8338,3.48)(8342,2.75)(8347,4.62)(8351,3.05)(8356,3.82)(8360,5.40)(8365,2.65)(8369,4.08)(8374,3.35)(8378,2.55)(8383,4.95)(8387,3.70)(8392,4.22)(8396,2.70)
(8402,3.15)(8406,4.45)(8411,2.60)(8415,3.62)(8420,5.08)(8424,2.80)(8429,4.00)(8433,3.30)(8438,2.55)(8442,4.72)(8446,5.70)(8447,3.45)(8451,2.68)(8456,3.90)(8460,4.35)(8465,2.58)(8469,3.22)(8474,5.28)(8478,2.75)(8483,3.75)(8487,4.55)(8492,2.62)(8496,3.40)(8499,4.25)
(7305,2.95)(7322,3.15)(7341,2.88)(7359,3.05)(7377,3.30)(7396,2.92)(7414,3.10)(7433,2.86)(7451,3.22)(7470,2.98)(7488,3.08)(7507,2.84)(7525,3.18)(7544,2.95)(7562,2.82)(7581,3.12)(7599,2.90)(7618,3.02)(7636,2.80)(7655,3.20)(7673,2.88)(7692,2.98)(7710,2.78)(7729,3.10)(7747,2.85)(7766,2.95)(7784,2.76)(7803,3.05)(7821,2.82)(7840,2.92)(7858,2.74)(7877,3.00)(7895,2.80)(7914,2.88)(7932,2.72)(7951,2.98)(7969,2.78)(7988,2.86)(8006,2.70)(8025,2.95)(8043,2.76)(8062,2.84)(8080,2.68)(8099,2.92)(8117,2.74)(8136,2.82)(8154,2.66)(8173,2.90)(8191,2.72)(8210,2.80)(8228,2.64)(8247,2.88)(8265,2.70)(8284,2.78)(8302,2.62)(8321,2.86)(8339,2.68)(8358,2.76)(8376,2.60)(8395,2.84)(8413,2.66)(8432,2.74)(8450,2.58)(8469,2.82)(8487,2.64)
};
\addlegendentry{LAMOST}
\addplot[lam, forget plot] coordinates {
(6500,3.95)(6502,4.42)(6503,3.58)(6505,4.68)(6506,3.82)(6508,4.20)(6509,3.40)(6511,4.55)(6513,3.75)(6514,4.05)(6516,4.80)(6517,3.62)(6519,4.30)(6520,3.90)(6522,4.48)(6523,3.48)(6525,4.12)(6526,4.62)(6528,3.70)(6529,4.00)(6531,4.38)(6532,3.55)(6534,4.75)(6535,3.85)(6537,4.25)(6538,3.45)(6540,4.58)(6541,3.78)(6543,4.15)(6545,4.90)(6546,3.65)(6548,4.35)
(6550,3.88)(6551,4.50)(6553,3.60)(6555,4.22)(6556,4.70)(6558,3.80)(6559,4.08)(6561,3.52)(6563,4.45)(6564,3.92)(6566,4.65)(6568,3.70)(6569,4.28)(6571,3.45)(6573,4.02)(6574,4.58)(6576,3.78)(6578,4.18)(6579,3.58)(6581,4.80)(6583,3.95)(6584,4.40)(6586,3.50)(6588,4.10)(6589,4.62)(6591,3.72)(6593,4.25)(6594,3.62)(6596,4.52)(6598,3.85)
(6600,4.32)(6602,3.65)(6604,4.15)(6605,4.72)(6607,3.55)(6609,3.98)(6610,4.52)(6612,3.72)(6614,4.10)(6616,3.45)(6617,4.60)(6619,3.88)(6621,4.28)(6622,3.52)(6624,4.82)(6626,3.78)(6628,4.05)(6629,3.42)(6631,4.48)(6633,3.95)(6635,4.22)(6636,3.60)(6638,4.70)(6640,3.82)(6642,4.12)(6643,3.48)(6645,4.40)(6647,3.70)(6649,4.58)
(6650,3.62)(6652,4.35)(6654,3.92)(6656,4.18)(6657,3.50)(6659,4.65)(6661,3.78)(6663,4.02)(6665,3.42)(6667,4.45)(6669,3.85)(6670,4.25)(6672,3.55)(6674,4.78)(6676,3.72)(6678,4.10)(6680,3.40)(6681,4.50)(6683,3.90)(6685,4.30)(6687,3.60)(6689,4.72)(6691,3.80)(6693,4.05)(6695,3.48)(6697,4.40)(6699,3.70)
(6700,4.22)(6702,3.52)(6704,4.60)(6706,3.82)(6708,4.10)(6710,3.40)(6712,4.42)(6714,3.75)(6716,4.28)(6718,3.58)(6720,4.70)(6722,3.90)(6724,4.08)(6726,3.45)(6728,4.52)(6730,3.68)(6732,4.18)(6734,3.85)(6736,3.35)(6739,4.38)(6741,3.72)(6743,4.62)(6745,3.55)(6748,4.02)
(6750,3.80)(6752,4.32)(6755,3.50)(6757,4.58)(6759,3.70)(6761,4.15)(6764,3.42)(6766,4.45)(6768,3.88)(6770,4.05)(6773,3.60)(6775,4.68)(6777,3.78)(6779,4.22)(6782,3.38)(6784,4.50)(6786,3.65)(6789,4.12)(6791,3.92)(6793,4.35)(6796,3.48)(6798,4.00)
(6800,3.72)(6803,4.25)(6805,3.45)(6807,4.52)(6810,3.85)(6812,4.08)(6815,3.35)(6817,4.40)(6819,3.68)(6822,4.15)(6824,3.55)(6827,4.62)(6829,3.78)(6831,4.02)(6834,3.42)(6836,4.32)(6839,3.62)(6841,4.48)(6844,3.88)(6846,3.30)(6849,4.20)
(6850,3.58)(6853,4.10)(6855,3.40)(6858,4.42)(6860,3.75)(6863,3.98)(6865,3.32)(6868,4.28)(6870,3.65)(6873,4.55)(6875,3.50)(6878,4.05)(6880,3.85)(6883,3.28)(6885,4.35)(6888,3.60)(6890,4.15)(6893,3.42)(6896,4.48)(6899,3.70)
(6900,3.95)(6903,3.38)(6905,4.25)(6908,3.62)(6911,4.02)(6913,3.25)(6916,4.38)(6919,3.55)(6921,3.88)(6924,4.18)(6927,3.42)(6929,3.75)(6932,4.45)(6935,3.30)(6938,3.98)(6940,3.62)(6943,4.28)(6946,3.48)(6949,3.85)
(6950,4.08)(6953,3.35)(6956,3.72)(6959,4.35)(6961,3.55)(6964,3.90)(6967,3.22)(6970,4.15)(6973,3.62)(6976,3.85)(6979,4.42)(6982,3.40)(6985,3.70)(6988,4.05)(6991,3.28)(6994,3.95)(6997,3.52)(6999,4.22)
(7013,4.05)(7037,3.55)(7062,4.62)(7089,3.28)(7116,4.18)(7141,5.02)(7168,3.42)(7193,3.95)(7219,4.75)(7244,3.15)(7273,4.32)(7297,3.68)(7324,5.25)(7351,3.35)(7377,4.05)(7403,3.58)(7428,4.85)(7457,3.08)(7481,4.28)(7508,3.72)(7534,5.10)(7563,3.25)(7587,4.45)(7614,3.62)(7641,4.95)(7668,3.05)(7694,4.12)(7719,3.48)(7748,5.32)(7772,3.18)(7799,4.58)(7826,3.75)(7853,4.20)(7877,2.95)(7904,4.82)(7931,3.40)(7958,4.02)(7984,3.12)(8011,5.18)(8038,3.58)(8063,4.35)(8091,2.92)(8117,4.70)(8144,3.32)(8168,4.10)(8197,3.02)(8223,4.88)(8249,3.50)(8276,4.15)(8301,2.88)(8328,4.55)(8355,3.25)(8381,5.05)(8408,3.42)(8434,4.30)(8461,2.98)(8488,4.62)
(7026,3.40)(7071,3.78)(7123,3.25)(7176,3.62)(7229,3.12)(7283,3.55)(7336,3.05)(7389,3.45)(7442,2.98)(7495,3.35)(7548,3.02)(7601,3.28)(7654,2.92)(7707,3.22)(7760,2.88)(7813,3.15)(7866,2.85)(7919,3.08)(7972,2.80)(8025,3.05)(8078,2.78)(8131,3.00)(8184,2.75)(8237,2.98)(8290,2.72)(8343,2.95)(8396,2.70)(8449,2.92)
};
\addlegendimage{fitimg}
\addlegendentry{Fitting}
\addplot[zer] coordinates {
(6501,3.25)(6503,3.50)(6504,3.12)(6506,3.62)(6507,3.38)(6509,3.05)(6511,3.45)(6512,3.70)(6514,3.20)(6516,3.55)(6517,3.30)(6519,3.00)(6521,3.42)(6522,3.65)(6524,3.15)(6526,3.52)(6527,3.28)(6529,3.75)(6531,3.08)(6532,3.40)(6534,3.58)(6536,3.22)(6537,3.35)(6539,3.68)(6541,3.02)(6542,3.48)(6544,3.18)(6546,3.60)(6547,2.68)(6548,3.32)
(6550,3.10)(6552,3.55)(6554,3.25)(6555,3.42)(6557,2.98)(6559,3.65)(6561,3.30)(6562,3.15)(6564,3.50)(6566,3.05)(6568,3.38)(6569,3.72)(6571,3.20)(6573,3.45)(6575,2.95)(6576,3.58)(6578,3.28)(6580,3.12)(6582,3.48)(6583,3.35)(6585,3.02)(6587,3.62)(6589,3.22)(6590,3.40)(6592,3.08)(6594,3.55)(6596,3.18)(6598,3.32)
(6601,3.45)(6603,3.10)(6605,3.30)(6607,3.58)(6609,2.98)(6611,3.22)(6613,3.40)(6615,3.05)(6617,3.62)(6619,3.28)(6621,3.15)(6623,3.48)(6625,2.92)(6627,3.35)(6629,3.55)(6631,3.12)(6633,3.25)(6635,3.42)(6637,3.00)(6639,3.60)(6641,3.18)(6643,3.32)(6645,2.95)(6647,3.50)(6649,3.20)
(6651,3.38)(6653,3.05)(6655,3.52)(6657,3.15)(6659,3.28)(6661,2.90)(6663,3.45)(6665,3.22)(6667,3.08)(6669,3.40)(6671,3.58)(6673,3.12)(6675,3.30)(6677,2.95)(6679,3.48)(6681,3.18)(6683,3.35)(6685,3.02)(6687,3.55)(6689,3.25)(6691,3.10)(6693,3.42)(6695,2.88)(6697,3.32)(6699,3.15)
(6702,3.30)(6704,3.05)(6706,3.45)(6708,3.18)(6710,2.92)(6712,3.38)(6714,3.12)(6716,3.52)(6718,3.25)(6720,2.98)(6722,3.40)(6724,3.08)(6726,3.30)(6728,2.88)(6730,3.48)(6732,3.20)(6734,3.02)(6736,3.35)(6738,3.15)(6739,2.53)(6741,3.42)(6743,2.95)(6745,3.28)(6747,3.10)(6749,3.50)
(6752,3.22)(6754,2.90)(6757,3.38)(6759,3.05)(6761,3.25)(6764,2.85)(6766,3.45)(6768,3.12)(6771,3.32)(6773,2.98)(6775,3.18)(6778,3.40)(6780,3.02)(6782,3.28)(6785,2.88)(6787,3.35)(6789,3.08)(6792,3.22)(6794,2.95)(6796,3.42)(6799,3.12)
(6801,3.25)(6804,2.95)(6806,3.35)(6809,3.08)(6811,2.85)(6814,3.28)(6816,3.15)(6819,3.42)(6821,2.92)(6824,3.20)(6826,3.02)(6829,3.32)(6831,2.88)(6834,3.12)(6836,3.38)(6839,2.98)(6841,3.22)(6844,2.82)(6846,3.30)(6849,3.05)
(6851,3.18)(6854,2.90)(6856,3.35)(6859,3.00)(6861,3.25)(6864,2.85)(6866,3.10)(6869,3.40)(6871,2.95)(6874,3.15)(6876,3.28)(6879,2.80)(6881,3.05)(6884,3.32)(6886,2.92)(6889,3.18)(6891,3.02)(6894,3.25)(6897,2.88)
(6902,3.15)(6905,2.90)(6908,3.28)(6911,3.02)(6914,2.80)(6917,3.20)(6920,2.95)(6923,3.35)(6926,3.08)(6929,2.85)(6932,3.22)(6935,2.98)(6938,3.12)(6941,2.78)(6944,3.30)(6947,3.05)(6950,2.90)(6953,3.18)(6956,2.82)(6959,3.25)(6962,3.00)(6965,2.88)(6968,3.15)(6971,2.95)(6974,3.32)(6977,2.80)(6980,3.08)(6983,2.92)(6986,3.20)(6989,2.56)(6992,2.98)(6995,3.12)(6998,2.85)(6900,2.46)
(7004,3.05)(7009,2.85)(7014,3.20)(7018,2.92)(7023,3.10)(7028,2.78)(7033,3.00)(7037,3.25)(7042,2.88)(7047,3.08)(7051,2.80)(7056,3.15)(7061,2.95)(7066,2.75)(7070,3.12)(7075,2.90)(7080,3.02)(7084,2.78)(7089,3.18)(7094,2.86)(7099,2.98)
(7104,2.76)(7108,3.08)(7113,2.88)(7118,2.72)(7123,3.02)(7127,2.85)(7132,3.12)(7137,2.78)(7142,2.95)(7146,2.70)(7151,3.05)(7156,2.82)(7161,2.92)(7165,2.75)(7170,3.10)(7175,2.86)(7180,2.72)(7184,2.98)(7189,2.80)(7194,2.68)(7199,2.92)
(7206,2.78)(7214,2.95)(7222,2.70)(7230,2.88)(7238,2.74)(7246,3.02)(7254,2.80)(7262,2.66)(7270,2.90)(7278,2.76)(7286,2.68)(7294,2.95)(7302,2.72)(7310,2.85)(7318,2.64)(7326,2.78)(7334,2.92)(7342,2.70)(7350,2.62)(7358,2.82)(7366,2.75)(7374,2.66)(7382,2.88)(7390,2.72)(7398,2.60)(7400,5.55)(7406,2.80)(7414,2.68)(7422,2.76)(7430,2.62)(7438,2.85)(7446,2.70)(7454,2.64)(7462,2.78)(7470,2.60)(7478,2.72)(7486,2.82)(7494,2.66)
(7508,2.62)(7521,2.75)(7540,2.58)(7553,2.68)(7566,2.80)(7585,2.55)(7598,2.65)(7611,2.72)(7630,2.52)(7643,2.62)(7656,2.70)(7675,2.55)(7688,2.48)(7701,2.65)(7720,2.58)(7733,2.68)(7746,2.50)(7765,2.60)(7778,2.45)(7791,2.66)(7810,2.55)(7823,2.48)(7836,2.62)(7855,2.52)(7868,2.42)(7881,2.58)(7900,2.50)(7913,2.62)(7926,2.45)(7945,2.55)(7958,2.40)(7971,2.58)(7990,2.48)(8003,2.52)(8016,2.42)(8035,2.56)(8048,2.38)(8061,2.50)(8080,2.45)(8093,2.55)(8106,2.36)(8125,2.48)(8138,2.42)(8151,2.52)(8170,2.35)(8183,2.46)(8196,2.40)(8215,2.50)(8228,2.33)(8241,2.44)(8260,2.38)(8273,2.48)(8286,2.32)(8305,2.42)(8318,2.36)(8331,2.46)(8350,2.30)(8363,2.40)(8376,2.34)(8395,2.44)(8408,2.28)(8421,2.38)(8440,2.32)(8453,2.42)(8466,2.26)(8485,2.36)(8496,2.10)
(7530,2.95)(7612,3.05)(7705,2.90)(7760,3.10)(7850,2.85)(7920,2.80)(8050,2.75)(8180,2.70)(8300,2.65)(8420,2.68)
};
\addlegendentry{Zero-reddening}
\addplot[zer, forget plot] coordinates {
(6500,3.38)(6501,3.15)(6503,3.62)(6504,3.28)(6506,3.05)(6507,3.55)(6509,3.42)(6510,3.18)(6512,3.68)(6513,3.32)(6515,3.08)(6516,3.48)(6518,3.22)(6519,3.72)(6521,3.35)(6522,3.02)(6524,3.58)(6525,3.25)(6527,3.45)(6528,3.12)(6530,3.65)(6531,3.30)(6533,3.05)(6534,3.52)(6536,3.38)(6537,3.15)(6539,3.60)(6540,3.28)(6542,3.70)(6543,3.08)(6545,3.45)(6546,3.20)(6548,3.58)(6549,3.35)
(6551,3.22)(6552,3.48)(6554,3.02)(6555,3.62)(6557,3.30)(6558,3.12)(6560,3.55)(6561,3.40)(6563,3.05)(6564,3.68)(6566,3.25)(6567,3.45)(6569,3.10)(6570,3.58)(6572,3.32)(6573,3.00)(6575,3.50)(6576,3.22)(6578,3.65)(6579,3.38)(6581,3.08)(6582,3.55)(6584,3.28)(6585,3.15)(6587,3.48)(6588,3.02)(6590,3.60)(6591,3.32)(6593,3.18)(6594,3.45)(6596,3.05)(6597,3.52)(6599,3.25)
(6600,3.35)(6602,3.05)(6603,3.52)(6605,3.20)(6606,3.42)(6608,2.98)(6609,3.58)(6611,3.30)(6613,3.08)(6614,3.48)(6616,3.22)(6618,3.62)(6619,3.00)(6621,3.38)(6623,3.15)(6624,3.55)(6626,3.28)(6628,2.95)(6629,3.45)(6631,3.20)(6633,3.60)(6634,3.10)(6636,3.35)(6638,3.02)(6639,3.50)(6641,3.25)(6643,3.12)(6644,3.45)(6646,2.98)(6648,3.38)
(6650,3.12)(6652,3.45)(6653,3.22)(6655,2.95)(6657,3.40)(6659,3.18)(6660,3.55)(6662,3.02)(6664,3.32)(6666,3.48)(6668,3.10)(6669,3.28)(6671,2.92)(6673,3.42)(6675,3.20)(6677,3.52)(6678,3.05)(6680,3.35)(6682,2.98)(6684,3.25)(6686,3.45)(6688,3.08)(6689,3.38)(6691,3.15)(6693,2.90)(6695,3.50)(6697,3.22)(6699,3.02)
(6700,3.25)(6702,3.48)(6704,2.98)(6706,3.15)(6708,3.40)(6710,3.08)(6712,2.90)(6714,3.32)(6716,3.05)(6718,3.45)(6720,3.18)(6722,2.95)(6724,3.35)(6726,3.12)(6728,3.50)(6730,3.00)(6732,3.28)(6734,3.10)(6736,2.88)(6739,3.38)(6741,3.05)(6743,3.22)(6745,2.92)(6747,3.42)(6749,3.15)
(6751,3.08)(6753,3.35)(6755,2.95)(6757,3.18)(6759,3.42)(6761,3.00)(6763,3.28)(6765,3.12)(6767,2.88)(6769,3.38)(6771,3.05)(6773,3.25)(6775,2.92)(6777,3.45)(6779,3.15)(6781,3.02)(6783,3.32)(6785,3.10)(6787,2.85)(6789,3.28)(6791,3.00)(6793,3.40)(6795,3.18)(6797,2.90)(6799,3.22)
(6800,3.02)(6802,3.30)(6805,2.90)(6807,3.18)(6809,3.40)(6811,2.98)(6814,3.22)(6816,3.05)(6818,2.85)(6820,3.35)(6823,3.10)(6825,2.92)(6827,3.28)(6829,3.00)(6832,3.38)(6834,2.88)(6836,3.15)(6838,3.25)(6841,2.95)(6843,3.05)(6845,3.32)(6848,2.90)
(6850,3.08)(6852,3.28)(6855,2.85)(6857,3.15)(6859,3.00)(6861,3.35)(6864,2.92)(6866,3.22)(6868,3.05)(6870,2.82)(6873,3.30)(6875,3.02)(6877,3.18)(6880,2.88)(6882,3.25)(6884,2.98)(6887,3.10)(6889,2.80)(6891,3.28)(6894,2.95)(6896,3.12)(6898,3.02)
(6900,2.92)(6903,3.18)(6906,2.85)(6909,3.05)(6912,3.25)(6915,2.90)(6918,3.10)(6921,2.98)(6924,2.80)(6927,3.20)(6930,2.95)(6933,3.12)(6936,2.85)(6939,3.28)(6942,3.00)(6945,2.88)(6948,3.15)(6951,2.82)(6954,3.05)(6957,3.22)(6960,2.90)(6963,3.08)(6966,2.78)(6969,3.18)(6972,2.92)(6975,3.02)(6978,2.85)(6981,3.15)(6984,2.95)(6987,2.80)(6990,3.10)(6993,2.88)(6996,3.20)(6999,2.98)
};
\addplot[fit] coordinates {(6500,3.33)(6600,3.25)(6700,3.18)(6800,3.10)(6900,3.03)(7000,2.97)(7100,2.91)(7200,2.86)(7300,2.81)(7400,2.77)(7500,2.73)(7600,2.69)(7700,2.66)(7800,2.62)(7900,2.59)(8000,2.56)(8100,2.54)(8200,2.52)(8300,2.50)(8400,2.49)(8500,2.48)};
\node[font=\fontsize{12.5}{13}\selectfont] at (rel axis cs:0.279,0.928) {Z: [-0.375,-0.125]};
\end{axis}
% ---------------- Panel 3 : FUV-B
\begin{axis}[panel, at={(0,155.5pt)}, anchor=south west, ymin=3, ymax=13, ytick={4,6,8,10,12},
  xticklabels={,,,,}, ylabel={FUV-B},
  legend style={at={(rel axis cs:0.649,0.95)}, anchor=north west}]
\addplot[lam] coordinates {
(7001,6.05)(7002,7.70)(7003,7.25)(7005,6.55)(7006,7.45)(7008,6.85)(7009,7.60)(7011,6.30)(7012,7.10)(7014,6.70)(7015,7.80)(7017,6.45)(7018,7.35)(7020,6.95)(7022,7.55)(7023,6.25)(7025,7.05)(7027,6.60)(7028,7.65)(7030,6.80)(7032,7.30)(7033,6.40)(7035,7.50)(7037,6.90)(7039,6.15)(7040,7.20)(7042,5.65)(7043,6.65)(7045,7.70)(7047,6.35)(7049,7.00)
(7050,6.75)(7052,7.40)(7054,6.50)(7056,7.85)(7057,6.20)(7059,7.15)(7061,6.85)(7063,7.55)(7065,6.42)(7066,7.25)(7068,6.62)(7070,7.02)(7072,6.10)(7074,7.45)(7076,6.78)(7078,9.23)(7078,7.62)(7080,6.32)(7082,7.08)(7084,6.55)(7086,7.38)(7088,6.90)(7089,8.95)(7090,6.00)(7092,7.18)(7094,6.48)(7096,7.75)(7098,6.70)(7007,8.62)(7004,8.25)
(7101,6.40)(7103,7.30)(7105,6.05)(7108,6.90)(7110,7.55)(7112,6.25)(7114,7.08)(7117,6.60)(7119,7.85)(7121,6.38)(7123,6.95)(7126,5.85)(7128,7.40)(7130,6.70)(7132,7.15)(7135,6.15)(7137,7.62)(7139,6.50)(7141,6.82)(7144,8.10)(7146,6.28)(7148,7.22)
(7150,6.55)(7153,7.00)(7155,5.95)(7157,7.48)(7159,6.42)(7162,6.88)(7164,7.70)(7166,6.12)(7168,7.10)(7171,6.65)(7173,6.02)(7175,7.35)(7177,6.45)(7180,6.92)(7182,8.00)(7184,6.30)(7186,7.18)(7189,5.30)(7190,6.60)(7193,7.52)(7195,6.20)(7197,6.98)(7100,4.08)(7136,4.95)
(7202,6.35)(7205,7.25)(7208,5.88)(7211,6.75)(7214,7.55)(7217,6.10)(7218,4.40)(7220,6.92)(7223,6.48)(7226,7.80)(7229,5.75)(7232,6.62)(7235,7.10)(7238,6.22)(7241,7.40)(7244,5.95)(7247,6.85)(7250,6.40)(7253,7.62)(7256,5.70)(7257,8.60)(7259,6.70)(7262,7.18)(7265,6.15)(7268,6.95)(7271,7.48)(7274,5.82)(7277,6.55)(7280,7.05)(7283,6.28)(7286,7.72)(7289,6.02)(7292,6.78)(7295,7.30)(7298,6.45)
(7302,5.75)(7305,6.85)(7309,7.45)(7312,6.20)(7316,5.50)(7319,7.05)(7323,6.55)(7326,7.90)(7330,5.88)(7333,6.70)(7337,7.25)(7340,6.05)(7344,6.48)(7347,7.60)(7351,5.62)(7354,6.92)(7358,6.30)(7361,7.15)(7365,5.42)(7368,6.62)(7372,8.05)(7375,6.12)(7379,7.35)(7382,5.80)(7386,6.80)(7389,6.40)(7393,7.52)(7396,5.95)
(7402,6.52)(7406,7.20)(7410,5.45)(7414,6.15)(7418,7.65)(7422,5.90)(7426,6.75)(7430,5.30)(7434,7.02)(7438,6.38)(7442,5.72)(7446,7.40)(7450,6.05)(7454,6.88)(7458,5.55)(7462,7.80)(7466,6.25)(7470,5.82)(7474,7.12)(7478,6.48)(7482,5.40)(7486,6.95)(7490,6.18)(7494,7.50)(7498,5.68)
(7503,6.85)(7507,5.35)(7511,6.30)(7515,7.35)(7519,5.78)(7523,6.60)(7527,5.20)(7531,7.05)(7535,6.12)(7539,5.55)(7543,7.60)(7547,6.42)(7551,5.95)(7555,6.78)(7559,5.28)(7563,7.22)(7567,6.05)(7571,5.65)(7575,6.95)(7579,6.25)(7583,5.42)(7587,7.48)(7591,5.85)(7595,6.55)
(7602,5.45)(7606,6.70)(7610,7.28)(7614,5.18)(7618,6.15)(7622,5.75)(7626,6.98)(7630,5.38)(7634,6.45)(7638,7.55)(7642,5.62)(7646,6.20)(7650,5.05)(7654,6.82)(7658,5.90)(7662,7.12)(7666,5.30)(7670,6.38)(7674,5.70)(7678,7.40)(7682,6.05)(7686,5.48)(7690,6.62)(7694,5.15)(7698,6.92)
(7702,6.30)(7706,5.58)(7710,7.02)(7714,5.12)(7718,6.48)(7722,5.85)(7726,7.35)(7730,5.35)(7734,6.15)(7738,5.68)(7742,6.75)(7746,4.98)(7750,8.46)(7751,6.05)(7755,7.15)(7759,5.48)(7763,6.58)(7767,5.22)(7771,6.90)(7775,5.78)(7779,6.35)(7783,7.48)(7787,5.40)(7791,6.10)(7795,5.00)(7799,6.68)
(7802,5.30)(7806,6.45)(7810,5.75)(7814,7.10)(7818,5.05)(7822,6.18)(7826,5.52)(7830,6.82)(7834,4.92)(7838,5.95)(7842,7.32)(7846,5.38)(7850,6.55)(7854,5.15)(7858,6.02)(7862,5.65)(7866,7.02)(7870,4.85)(7874,6.30)(7878,5.45)(7882,6.72)(7886,5.10)(7890,7.25)(7894,5.82)(7898,6.12)
(7902,5.58)(7906,6.88)(7910,4.95)(7914,6.20)(7918,5.35)(7922,7.18)(7926,5.02)(7930,6.42)(7934,5.72)(7938,4.80)(7942,6.65)(7946,5.25)(7950,7.35)(7954,5.48)(7958,6.05)(7962,4.88)(7966,6.78)(7970,5.62)(7974,5.12)(7978,7.05)(7982,5.40)(7986,6.32)(7990,4.75)(7994,5.88)(7998,6.55)
(8002,5.05)(8006,6.40)(8010,5.50)(8014,7.00)(8018,4.72)(8022,5.85)(8026,5.20)(8030,6.62)(8034,4.90)(8038,6.10)(8042,5.38)(8046,7.25)(8050,4.65)(8054,5.75)(8058,6.30)(8062,5.02)(8066,6.85)(8070,5.45)(8074,4.82)(8078,6.05)(8082,5.28)(8086,7.12)(8090,4.98)(8094,5.62)(8098,6.48)
(8102,5.15)(8106,6.25)(8110,4.62)(8114,5.68)(8118,7.05)(8122,4.95)(8126,5.92)(8130,5.30)(8134,6.58)(8138,4.55)(8142,5.48)(8146,6.88)(8150,5.05)(8154,6.12)(8158,4.75)(8162,5.78)(8166,7.30)(8170,5.18)(8174,4.60)(8178,6.35)(8182,5.40)(8186,4.88)(8190,6.70)(8194,5.58)(8198,4.48)
(8202,6.02)(8206,5.22)(8210,4.58)(8214,6.45)(8218,5.00)(8222,5.65)(8226,7.15)(8230,4.42)(8234,5.35)(8238,6.15)(8242,4.80)(8246,5.85)(8250,6.62)(8254,4.95)(8258,5.48)(8262,4.35)(8266,6.30)(8268,4.08)(8270,5.12)(8274,7.02)(8278,4.65)(8282,5.75)(8286,6.10)(8290,4.50)(8294,5.30)(8298,6.80)
(8302,4.72)(8306,5.58)(8310,6.35)(8314,4.30)(8318,5.15)(8322,6.92)(8326,4.55)(8330,5.80)(8334,4.95)(8338,6.20)(8342,4.40)(8346,5.40)(8350,7.18)(8354,4.85)(8357,7.40)(8358,5.65)(8362,4.25)(8366,6.05)(8368,3.40)(8370,5.02)(8374,6.55)(8378,4.62)(8382,5.30)(8386,4.15)(8390,5.92)(8394,6.75)(8398,4.78)
(8402,5.50)(8406,4.35)(8410,6.12)(8414,4.85)(8418,5.20)(8422,6.60)(8426,4.20)(8429,7.52)(8430,5.70)(8434,4.60)(8438,5.35)(8442,6.30)(8446,4.10)(8450,5.05)(8454,5.88)(8458,4.45)(8462,6.85)(8466,4.92)(8470,5.45)(8474,4.28)(8478,5.95)(8482,4.70)(8486,5.25)(8490,6.40)(8494,4.55)(8498,5.10)(8499,5.78)
(7000,6.95)(7002,6.40)(7004,7.10)(7005,7.62)(7007,6.72)(7009,6.18)(7010,7.32)(7012,6.88)(7014,7.50)(7016,6.58)(7017,7.18)(7019,6.32)(7021,7.75)(7022,6.82)(7024,7.40)(7026,6.50)(7027,7.02)(7029,6.22)(7031,7.58)(7033,6.68)(7034,7.25)(7036,6.05)(7038,6.92)(7040,7.45)(7041,6.38)(7043,7.12)(7045,6.60)(7046,7.68)(7048,6.45)(7050,7.28)
(7052,6.82)(7053,6.15)(7055,7.35)(7057,6.70)(7059,6.35)(7060,7.50)(7062,6.95)(7064,6.25)(7066,7.15)(7067,6.58)(7069,7.62)(7071,6.42)(7073,6.98)(7074,6.12)(7076,7.30)(7078,6.65)(7080,7.05)(7081,6.30)(7083,7.48)(7085,6.85)(7087,6.52)(7088,7.22)(7090,6.75)(7092,6.08)(7094,7.40)(7095,6.62)(7097,7.00)(7099,6.35)
(7102,7.12)(7106,6.52)(7109,7.35)(7113,6.78)(7116,6.20)(7120,7.02)(7124,6.48)(7127,7.25)(7131,6.88)(7134,6.30)(7138,7.08)(7142,6.60)(7145,7.42)(7149,6.38)(7152,6.90)(7156,7.20)(7160,6.10)(7163,6.75)(7167,7.38)(7170,6.45)(7174,6.95)(7178,6.25)(7181,7.12)(7185,6.70)(7188,6.02)(7192,6.85)(7196,7.28)(7199,6.52)
};
\addlegendentry{LAMOST}
\addlegendimage{fitimg}
\addlegendentry{Fitting}
\addplot[zer] coordinates {
(7001,7.25)(7003,6.60)(7004,7.50)(7006,6.95)(7008,7.35)(7009,6.50)(7011,7.10)(7013,6.78)(7014,7.60)(7016,6.40)(7018,7.20)(7019,6.88)(7021,7.45)(7023,6.55)(7024,7.02)(7026,6.70)(7028,7.30)(7029,6.45)(7031,7.55)(7033,6.85)(7034,7.15)(7036,6.62)(7038,7.40)(7039,6.35)(7041,6.98)(7043,7.25)(7044,6.52)(7046,7.05)(7048,6.75)(7049,7.48)
(7051,6.30)(7053,6.92)(7054,7.20)(7056,6.58)(7058,7.35)(7059,6.80)(7061,6.42)(7063,7.10)(7064,5.70)(7066,6.68)(7068,7.28)(7069,6.48)(7071,6.95)(7073,6.25)(7074,7.42)(7076,6.72)(7078,7.05)(7079,6.38)(7081,6.88)(7083,7.15)(7084,6.55)(7086,6.20)(7088,6.98)(7089,7.30)(7091,6.60)(7093,6.82)(7094,6.35)(7096,7.08)(7098,6.50)(7100,4.93)(7110,4.73)
(7103,6.72)(7107,7.02)(7111,6.40)(7115,6.88)(7119,7.25)(7123,6.55)(7127,6.15)(7131,6.95)(7135,6.48)(7139,7.18)(7143,6.30)(7147,6.75)(7150,5.47)(7151,6.05)(7155,6.62)(7159,7.08)(7163,6.25)(7167,6.85)(7171,6.42)(7175,5.95)(7179,6.70)(7183,6.18)(7187,7.00)(7191,6.35)(7195,6.58)(7199,6.10)
(7203,6.78)(7207,6.28)(7211,6.52)(7215,5.90)(7218,3.64)(7219,6.92)(7223,6.40)(7227,6.08)(7229,5.50)(7231,6.65)(7235,6.20)(7239,5.82)(7243,6.50)(7247,6.02)(7251,6.75)(7255,6.30)(7259,5.75)(7263,6.45)(7267,6.12)(7271,6.62)(7275,5.88)(7279,6.38)(7283,6.05)(7287,6.55)(7291,5.70)(7295,6.28)(7299,6.00)
(7305,6.25)(7313,5.90)(7321,6.55)(7329,6.10)(7337,5.65)(7345,6.40)(7353,5.95)(7361,6.22)(7369,5.50)(7377,6.05)(7385,6.35)(7393,5.78)(7401,6.12)(7409,5.55)(7417,6.28)(7425,5.88)(7433,5.30)(7441,6.02)(7449,5.68)(7457,6.20)(7465,5.42)(7473,5.95)(7481,6.10)(7489,5.60)(7497,5.85)(7500,4.18)
(7505,6.00)(7513,5.48)(7521,5.78)(7529,6.08)(7537,5.35)(7545,5.70)(7553,5.92)(7561,5.20)(7569,5.62)(7577,5.88)(7585,5.45)(7593,5.72)(7360,4.35)(7420,4.60)(7340,3.95)(7470,4.90)(7310,6.90)(7390,6.75)(7450,6.60)(7530,6.55)
(7605,5.75)(7618,5.95)(7631,5.50)(7644,5.85)(7657,5.30)(7670,5.70)(7683,5.92)(7689,4.00)(7696,5.42)(7709,5.68)(7718,4.00)(7722,5.25)(7735,5.58)(7748,5.82)(7761,5.15)(7774,5.45)(7787,5.70)(7800,5.08)(7813,5.35)(7826,5.60)(7839,5.00)(7852,5.25)(7865,5.50)(7878,4.90)(7891,5.18)(7904,5.42)(7917,4.85)(7930,5.12)(7943,5.35)(7956,4.78)(7969,5.05)(7982,5.28)(7995,4.75)
(8008,5.00)(8021,5.20)(8034,4.68)(8047,4.95)(8060,5.18)(8073,4.62)(8086,4.88)(8099,5.10)(8107,4.35)(8112,4.58)(8125,4.82)(8138,5.05)(8151,4.50)(8164,4.75)(8177,4.98)(8190,4.45)(8203,4.70)(8216,4.92)(8229,4.38)(8242,4.65)(8255,4.85)(8268,4.32)(8281,4.60)(8294,4.78)
(8307,4.25)(8320,4.55)(8333,4.72)(8346,3.80)(8359,4.48)(8372,4.68)(8385,4.15)(8398,4.42)(8411,4.62)(8424,4.10)(8437,4.38)(8450,4.58)(8463,4.05)(8476,4.32)(8489,4.52)(8498,4.60)
(7640,6.20)(7760,6.05)(7900,5.70)(8050,5.55)(8200,5.30)(8350,5.10)(8460,4.95)
(7000,7.00)(7002,6.75)(7005,7.18)(7007,6.62)(7010,7.38)(7012,6.90)(7015,6.48)(7017,7.12)(7020,6.80)(7022,7.30)(7025,6.58)(7027,6.95)(7030,7.20)(7032,6.42)(7035,6.88)(7037,7.08)(7040,6.65)(7042,7.35)(7045,6.78)(7047,6.30)(7050,7.00)(7052,6.55)(7055,7.22)(7057,6.72)(7060,6.38)(7062,7.05)(7065,6.85)(7067,6.52)(7070,7.15)(7072,6.68)(7075,6.40)(7077,6.92)(7080,7.10)(7082,6.58)(7085,6.82)(7087,6.45)(7090,7.02)(7092,6.70)(7095,6.28)(7097,6.90)
};
\addlegendentry{Zero-reddening}
\addplot[fit] coordinates {(7000,7.05)(7100,6.85)(7200,6.66)(7300,6.47)(7400,6.29)(7500,6.11)(7600,5.92)(7700,5.74)(7800,5.56)(7900,5.38)(8000,5.21)(8100,5.07)(8200,4.93)(8300,4.80)(8400,4.68)(8500,4.57)};
\node[font=\fontsize{12.5}{13}\selectfont] at (rel axis cs:0.279,0.91) {Z: [-0.375,-0.125]};
\end{axis}
% ---------------- Panel 4 : FUV-NUV
\begin{axis}[panel, at={(0,0)}, anchor=south west, ymin=0, ymax=8, ytick={0,2,4,6},
  ylabel={FUV-NUV}, xlabel={$T_{\rm eff}$},
  xlabel style={font=\fontsize{15}{17}\selectfont, at={(axis description cs:0.51,0)}, anchor=center, yshift=-28.5pt},
  legend style={at={(rel axis cs:0.649,0.953)}, anchor=north west}]
\addplot[lam] coordinates {
(7001,3.50)(7002,4.40)(7004,3.85)(7005,4.60)(7007,3.62)(7009,4.20)(7010,3.40)(7012,4.05)(7014,3.75)(7015,4.48)(7017,3.55)(7019,4.28)(7020,3.92)(7022,4.55)(7024,3.35)(7026,4.12)(7027,3.68)(7029,4.38)(7031,3.82)(7032,4.02)(7034,3.45)(7036,4.50)(7038,3.72)(7039,2.30)(7040,4.15)(7041,3.58)(7043,4.90)(7043,4.32)(7045,3.88)(7047,3.30)(7049,4.22)
(7050,3.65)(7052,4.45)(7054,3.95)(7056,3.48)(7058,4.08)(7059,3.78)(7061,4.35)(7063,3.40)(7065,4.00)(7067,3.60)(7068,4.25)(7070,3.85)(7072,3.32)(7074,4.42)(7076,3.70)(7078,4.10)(7079,4.90)(7080,3.52)(7082,4.30)(7084,3.80)(7086,3.25)(7088,4.18)(7090,3.62)(7092,3.98)(7094,4.40)(7096,3.45)(7098,3.90)(7000,2.90)(7002,2.85)
(7102,3.58)(7104,4.22)(7107,3.35)(7109,3.95)(7111,4.40)(7113,3.65)(7116,3.15)(7118,4.05)(7120,3.78)(7122,4.30)(7125,3.42)(7127,3.88)(7129,3.22)(7131,4.15)(7134,3.60)(7136,4.48)(7138,3.50)(7139,2.13)(7140,3.98)(7143,3.30)(7145,3.72)(7147,4.25)(7149,3.45)
(7152,3.85)(7154,3.10)(7156,4.08)(7158,3.55)(7161,4.35)(7163,3.68)(7165,3.25)(7167,3.92)(7170,3.48)(7172,4.18)(7174,3.75)(7176,3.05)(7179,3.82)(7181,4.02)(7183,3.38)(7185,3.62)(7188,4.28)(7189,1.85)(7190,3.18)(7192,3.70)(7194,3.95)(7197,3.40)(7199,3.58)(7100,1.10)
(7202,4.12)(7205,3.42)(7208,3.80)(7211,3.15)(7214,3.98)(7217,3.55)(7218,1.54)(7220,4.25)(7223,3.28)(7226,3.70)(7229,3.05)(7232,3.88)(7235,3.48)(7238,4.05)(7241,3.22)(7244,3.62)(7247,2.95)(7250,3.78)(7253,3.38)(7256,4.15)(7259,3.10)(7262,3.55)(7265,3.85)(7268,3.25)(7271,3.68)(7274,2.98)(7277,3.45)(7280,3.92)(7283,3.18)(7286,3.58)(7289,3.35)(7292,3.75)(7295,2.90)(7298,3.50)
(7302,3.82)(7306,3.25)(7309,3.58)(7313,2.95)(7316,3.72)(7320,3.38)(7323,4.05)(7327,3.10)(7330,3.50)(7334,3.85)(7337,3.02)(7341,3.42)(7344,3.68)(7348,2.88)(7351,3.30)(7355,3.92)(7358,3.15)(7362,3.55)(7365,2.80)(7369,3.45)(7372,3.75)(7376,3.05)(7379,3.35)(7383,3.62)(7386,2.92)(7390,3.28)(7393,3.80)(7397,3.12)
(7402,3.50)(7406,2.98)(7410,3.72)(7414,3.20)(7418,2.75)(7422,3.45)(7426,3.85)(7430,3.08)(7434,3.38)(7438,2.85)(7442,3.62)(7446,3.15)(7450,3.95)(7454,2.70)(7458,3.30)(7462,3.55)(7466,2.92)(7470,3.22)(7474,3.68)(7478,2.80)(7482,3.42)(7486,3.05)(7490,3.78)(7494,2.62)(7498,3.28)(7430,2.05)
(7503,3.52)(7507,2.90)(7511,3.25)(7515,3.70)(7519,2.72)(7523,3.12)(7527,3.42)(7531,2.60)(7535,3.35)(7539,3.00)(7543,3.62)(7547,2.80)(7551,3.18)(7555,3.48)(7559,2.65)(7563,3.05)(7567,3.30)(7571,2.88)(7575,3.55)(7579,3.08)(7583,2.55)(7587,3.22)(7591,2.95)(7595,3.40)
(7602,2.82)(7606,3.28)(7610,3.55)(7614,2.68)(7618,3.05)(7622,3.38)(7626,2.58)(7630,3.15)(7634,2.90)(7638,3.48)(7642,2.72)(7646,3.00)(7650,3.32)(7654,2.50)(7658,3.10)(7662,2.85)(7666,3.42)(7670,2.65)(7674,2.95)(7678,3.25)(7682,2.42)(7686,3.02)(7690,2.78)(7694,3.35)(7698,2.60)
(7702,3.18)(7706,2.55)(7710,2.92)(7714,3.30)(7718,2.70)(7722,2.98)(7726,2.45)(7730,3.22)(7734,2.80)(7738,3.08)(7742,2.58)(7746,3.38)(7750,2.88)(7754,2.35)(7758,3.12)(7762,2.65)(7766,2.95)(7770,3.25)(7774,2.50)(7778,2.82)(7782,3.05)(7786,2.40)(7790,2.72)(7794,3.15)(7798,2.62)
(7802,2.95)(7806,2.38)(7810,2.78)(7814,3.12)(7818,2.55)(7822,2.88)(7826,3.25)(7830,2.30)(7834,2.70)(7838,3.02)(7842,2.48)(7846,2.82)(7850,3.15)(7854,2.60)(7858,2.25)(7862,2.92)(7866,2.68)(7870,3.08)(7874,2.42)(7878,2.75)(7882,2.98)(7886,2.35)(7890,2.62)(7894,2.85)(7898,2.52)
(7902,2.72)(7906,3.05)(7910,2.40)(7914,2.65)(7918,2.92)(7922,2.28)(7926,2.58)(7930,2.85)(7934,2.48)(7938,2.20)(7942,2.78)(7946,2.55)(7950,3.00)(7954,2.35)(7958,2.68)(7962,2.90)(7966,2.42)(7970,2.15)(7974,2.62)(7978,2.82)(7982,2.30)(7986,2.52)(7990,2.75)(7994,2.45)(7998,2.95)
(8002,2.60)(8006,2.25)(8010,2.85)(8014,2.48)(8018,2.70)(8022,2.12)(8026,2.55)(8030,2.92)(8034,2.38)(8038,2.65)(8042,2.20)(8046,2.78)(8050,2.45)(8054,2.05)(8058,2.62)(8062,2.88)(8066,2.32)(8070,2.52)(8074,2.75)(8078,2.18)(8082,2.58)(8086,2.40)(8090,2.82)(8094,2.28)(8098,2.50)
(8102,2.68)(8106,2.15)(8110,2.45)(8114,2.78)(8118,2.30)(8122,2.02)(8126,2.58)(8130,2.40)(8134,2.72)(8138,2.22)(8142,1.95)(8146,2.50)(8150,2.65)(8154,2.10)(8158,2.35)(8162,2.80)(8166,2.00)(8170,2.55)(8174,2.28)(8178,1.90)(8182,2.62)(8186,2.42)(8190,2.18)(8194,2.70)(8198,2.05)
(8202,2.48)(8206,1.88)(8210,2.30)(8214,2.62)(8218,2.08)(8222,2.40)(8226,1.80)(8230,2.55)(8234,2.20)(8238,2.72)(8242,1.92)(8246,2.35)(8250,2.58)(8254,1.75)(8258,2.12)(8262,2.45)(8266,2.00)(8270,2.68)(8274,1.85)(8278,2.28)(8282,2.50)(8286,0.33)(8287,1.70)(8290,2.15)(8294,2.38)(8298,1.95)
(8302,2.55)(8306,1.82)(8310,2.22)(8314,2.62)(8318,1.68)(8322,2.05)(8326,2.40)(8330,1.90)(8334,2.30)(8338,1.62)(8342,2.12)(8346,2.48)(8350,1.75)(8354,2.00)(8358,2.35)(8362,1.58)(8366,2.20)(8368,0.46)(8370,1.85)(8374,2.55)(8378,1.65)(8382,2.08)(8386,2.42)(8390,0.85)(8394,1.72)(8398,2.15)
(8402,1.55)(8406,2.25)(8410,1.80)(8414,2.02)(8418,1.50)(8420,0.86)(8422,2.38)(8426,1.68)(8430,1.95)(8434,2.30)(8438,1.58)(8442,2.10)(8446,1.45)(8450,0.88)(8451,2.22)(8454,1.75)(8458,2.00)(8462,1.52)(8466,2.40)(8470,1.65)(8475,1.13)(8474,1.90)(8478,2.15)(8482,1.48)(8486,2.05)(8490,1.72)(8494,2.30)(8498,1.60)(8499,2.45)
(7000,3.78)(7002,4.12)(7004,3.55)(7005,4.32)(7007,3.92)(7009,3.45)(7010,4.22)(7012,3.68)(7014,4.45)(7016,3.85)(7017,3.30)(7019,4.05)(7021,3.62)(7022,4.38)(7024,3.95)(7026,3.50)(7027,4.18)(7029,3.75)(7031,4.52)(7033,3.40)(7034,3.98)(7036,3.65)(7038,4.28)(7040,3.82)(7041,3.35)(7043,4.08)(7045,3.58)(7046,4.40)(7048,3.88)(7050,3.42)
(7052,4.02)(7053,3.70)(7055,4.30)(7057,3.48)(7059,3.95)(7060,3.62)(7062,4.18)(7064,3.38)(7066,3.85)(7067,4.42)(7069,3.55)(7071,3.98)(7073,3.28)(7074,4.15)(7076,3.65)(7078,3.92)(7080,3.45)(7081,4.25)(7083,3.72)(7085,3.35)(7087,4.02)(7088,3.58)(7090,4.32)(7092,3.82)(7094,3.30)(7095,3.95)(7097,3.62)(7099,4.12)
(7102,3.82)(7106,3.40)(7109,4.10)(7113,3.55)(7116,3.92)(7120,3.25)(7124,3.72)(7127,4.02)(7131,3.48)(7134,3.85)(7138,3.20)(7142,3.95)(7145,3.58)(7149,3.32)(7152,3.78)(7156,3.45)(7160,4.05)(7163,3.62)(7167,3.15)(7170,3.88)(7174,3.52)(7178,3.30)(7181,3.75)(7185,3.92)(7188,3.42)(7192,3.60)(7196,3.22)(7199,3.85)
};
\addlegendentry{LAMOST}
\addlegendimage{fitimg}
\addlegendentry{fitting}
\addplot[zer] coordinates {
(7001,4.20)(7003,3.95)(7004,4.45)(7006,4.10)(7008,3.78)(7009,4.32)(7011,4.02)(7013,4.55)(7014,3.88)(7016,4.25)(7018,3.70)(7019,4.40)(7021,4.05)(7023,3.82)(7024,4.62)(7026,4.15)(7028,3.92)(7029,4.35)(7031,3.65)(7033,4.22)(7034,4.00)(7036,4.50)(7038,3.75)(7039,4.12)(7041,3.90)(7043,4.30)(7044,3.60)(7046,4.08)(7048,4.42)(7049,3.85)
(7051,4.18)(7053,3.72)(7054,4.00)(7056,4.38)(7058,3.80)(7059,4.12)(7061,3.55)(7063,4.25)(7064,3.95)(7066,4.48)(7068,3.68)(7069,4.05)(7071,3.88)(7073,4.30)(7074,3.62)(7076,4.15)(7078,3.92)(7079,4.40)(7081,3.75)(7083,4.02)(7084,3.50)(7086,4.20)(7088,3.85)(7089,4.35)(7091,3.70)(7093,3.98)(7094,4.10)(7096,3.58)(7098,3.90)
(7103,4.05)(7107,3.72)(7110,1.60)(7100,1.85)(7111,4.25)(7115,3.55)(7119,3.92)(7123,4.15)(7127,3.48)(7131,3.80)(7135,4.08)(7139,3.40)(7143,3.68)(7147,3.95)(7151,3.30)(7155,3.75)(7159,4.02)(7163,3.45)(7167,3.62)(7171,3.88)(7175,3.25)(7179,3.58)(7183,3.82)(7187,3.35)(7191,3.70)(7195,3.95)(7199,3.20)
(7203,3.52)(7207,3.78)(7211,3.15)(7215,3.60)(7218,0.95)(7219,3.85)(7223,3.28)(7227,3.50)(7231,3.72)(7235,3.10)(7239,2.46)(7240,3.45)(7244,3.65)(7248,3.02)(7252,3.38)(7256,3.58)(7260,3.80)(7264,3.15)(7268,3.42)(7272,3.62)(7276,2.98)(7280,3.32)(7284,3.55)(7288,3.08)(7292,3.40)(7296,3.70)
(7305,3.48)(7313,3.75)(7321,3.20)(7329,3.55)(7337,3.88)(7345,3.05)(7350,1.25)(7353,3.38)(7361,3.62)(7369,3.15)(7377,3.45)(7385,3.72)(7393,2.95)(7401,3.30)(7407,4.64)(7409,3.58)(7417,3.12)(7425,3.40)(7433,2.85)(7441,3.22)(7449,3.50)(7457,2.98)(7465,3.28)(7473,3.55)(7481,2.90)(7489,3.18)(7497,3.42)
(7507,4.18)(7505,3.05)(7513,3.32)(7521,2.80)(7529,3.12)(7537,3.38)(7545,2.92)(7553,3.20)(7561,3.45)(7569,2.78)(7577,3.05)(7585,3.30)(7593,2.88)
(7605,3.18)(7618,2.90)(7631,3.35)(7644,2.75)(7657,3.05)(7670,3.22)(7683,2.70)(7696,2.98)(7709,3.15)(7722,2.62)(7735,2.88)(7748,3.05)(7761,2.55)(7774,2.82)(7787,3.00)(7800,2.50)(7813,2.75)(7826,2.92)(7839,2.42)(7852,2.68)(7865,2.88)(7878,2.38)(7879,3.95)(7891,2.60)(7904,2.82)(7917,2.30)(7930,2.55)(7943,2.75)(7950,3.77)(7956,2.25)(7969,2.48)(7982,2.68)(7995,2.20)
(8008,2.42)(8021,2.62)(8034,2.15)(8047,2.38)(8060,2.58)(8073,2.10)(8086,2.32)(8099,2.52)(8112,2.05)(8125,2.28)(8138,2.48)(8151,2.00)(8164,2.22)(8177,2.42)(8190,1.95)(8203,2.18)(8216,2.38)(8229,1.90)(8242,2.12)(8255,2.35)(8268,1.85)(8281,2.08)(8294,2.30)
(8307,2.70)(8320,2.02)(8333,2.72)(8346,1.78)(8350,1.67)(8359,2.25)(8372,2.45)(8385,1.75)(8398,2.60)(8411,2.20)(8424,1.72)(8437,2.38)(8450,1.95)(8457,1.28)(8463,1.25)(8476,2.10)(8489,2.35)(8493,2.38)(8498,2.22)
(7000,4.05)(7002,4.30)(7005,3.88)(7007,4.52)(7010,4.15)(7012,3.80)(7015,4.38)(7017,4.00)(7020,4.60)(7022,3.72)(7025,4.25)(7027,4.48)(7030,3.95)(7032,4.12)(7035,3.68)(7037,4.32)(7040,4.02)(7042,4.55)(7045,3.85)(7047,4.20)(7050,3.62)(7052,4.40)(7055,4.08)(7057,3.78)(7060,4.28)(7062,3.92)(7065,4.15)(7067,3.58)(7070,4.35)(7072,4.00)(7075,3.82)(7077,4.22)(7080,3.65)(7082,4.10)(7085,3.90)(7087,4.30)(7090,3.55)(7092,4.05)(7095,3.78)(7097,4.18)
};
\addlegendentry{Zero-reddening}
\addplot[fit] coordinates {(7000,4.10)(7100,3.92)(7200,3.76)(7300,3.60)(7400,3.44)(7500,3.28)(7600,3.15)(7700,3.02)(7800,2.90)(7900,2.78)(8000,2.67)(8100,2.57)(8200,2.46)(8300,2.36)(8400,2.27)(8500,2.18)};
\node[font=\fontsize{12.5}{13}\selectfont] at (rel axis cs:0.279,0.91) {Z: [-0.375,-0.125]};
\end{axis}
\end{tikzpicture}
\end{document}
